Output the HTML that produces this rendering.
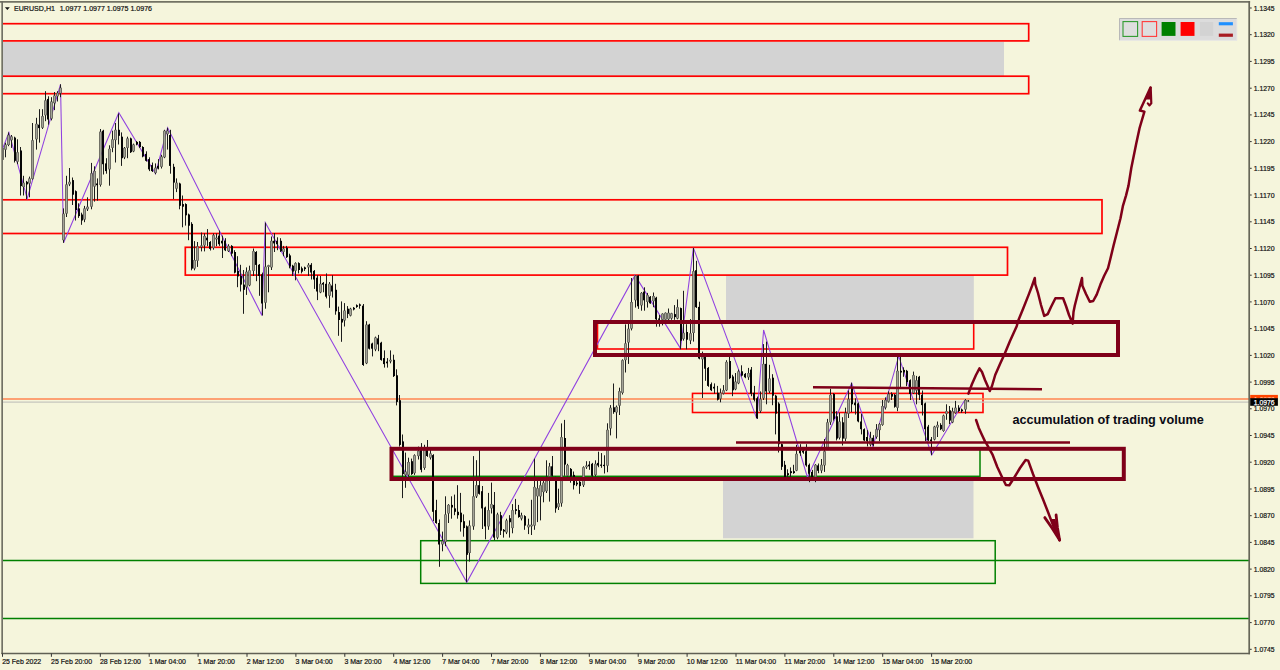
<!DOCTYPE html>
<html><head><meta charset="utf-8"><title>EURUSD,H1</title>
<style>html,body{margin:0;padding:0;background:#f5f5dc;}body{width:1280px;height:670px;overflow:hidden;position:relative;font-family:"Liberation Sans",sans-serif;}svg{position:absolute;left:0;top:0;display:block}text{font-family:"Liberation Sans",sans-serif;}text.s{stroke:#111;stroke-width:0.22px;}</style></head><body>
<svg width="1280" height="670" viewBox="0 0 1280 670">
<rect x="0" y="0" width="1280" height="670" fill="#f5f5dc"/>
<defs><clipPath id="plot"><rect x="3" y="3" width="1246" height="650"/></clipPath></defs>
<g clip-path="url(#plot)">
<rect x="0" y="42" width="1004" height="34.5" fill="#d3d3d3"/>
<rect x="726" y="275.5" width="247.8" height="44.5" fill="#d3d3d3"/>
<rect x="723" y="481" width="250.5" height="57.3" fill="#d3d3d3"/>
<rect x="-10.00" y="23.70" width="1038.70" height="17.20" fill="none" stroke="#ff0000" stroke-width="1.70"/>
<rect x="-10.00" y="76.20" width="1038.70" height="17.50" fill="none" stroke="#ff0000" stroke-width="1.70"/>
<rect x="-10.00" y="199.80" width="1112.00" height="33.70" fill="none" stroke="#ff0000" stroke-width="1.70"/>
<rect x="185.30" y="247.30" width="822.20" height="27.80" fill="none" stroke="#ff0000" stroke-width="1.70"/>
<rect x="597.50" y="323.00" width="376.20" height="26.00" fill="none" stroke="#ff0000" stroke-width="1.60"/>
<rect x="692.50" y="393.40" width="290.50" height="19.10" fill="none" stroke="#ff0000" stroke-width="1.60"/>
<rect x="392.00" y="449.00" width="588.00" height="27.30" fill="none" stroke="#008000" stroke-width="1.50"/>
<rect x="420.70" y="540.70" width="574.50" height="42.70" fill="none" stroke="#008000" stroke-width="1.50"/>
<line x1="0" y1="560.5" x2="1249" y2="560.5" stroke="#008000" stroke-width="1.5"/>
<line x1="0" y1="618.6" x2="1249" y2="618.6" stroke="#008000" stroke-width="1.5"/>
<line x1="0" y1="399.05" x2="1249" y2="399.05" stroke="#ff8550" stroke-width="1.6"/>
<line x1="0" y1="402.15" x2="1249" y2="402.15" stroke="#c6c6be" stroke-width="1.4"/>
<polyline fill="none" stroke="#9040e0" stroke-width="1.05" points="2.6,148.8 8.9,132.4 27.2,198.6 60.5,84.3 63.6,242.8 118.8,112.7 155.5,173.7 167.6,127.8 261.9,315.5 265.3,222.7 466.8,582.3 635.0,275.4 680.5,348.4 693.4,247.9 756.9,418.9 763.6,330.0 807.4,477.2 851.7,383.2 872.9,446.4 898.7,356.2 931.7,455.0 965.0,399.7"/>
<g id="candles">
<line x1="965.5" y1="399.1" x2="965.5" y2="413.8" stroke="#1c1c1c" stroke-width="1"/>
<rect x="964.15" y="400.0" width="2.7" height="9.5" fill="#595952"/>
<rect x="965.00" y="400.5" width="1" height="8.5" fill="#a4a498"/>
<line x1="961.5" y1="408.6" x2="961.5" y2="412.9" stroke="#1c1c1c" stroke-width="1"/>
<rect x="961" y="409.5" width="2" height="1.7" fill="#050505"/>
<line x1="958.5" y1="405.2" x2="958.5" y2="412.0" stroke="#1c1c1c" stroke-width="1"/>
<rect x="958" y="407.7" width="2" height="3.4" fill="#050505"/>
<line x1="955.5" y1="400.9" x2="955.5" y2="413.8" stroke="#1c1c1c" stroke-width="1"/>
<rect x="954.15" y="407.7" width="2.7" height="5.2" fill="#595952"/>
<rect x="955.00" y="408.2" width="1" height="4.2" fill="#a4a498"/>
<line x1="952.5" y1="407.7" x2="952.5" y2="423.2" stroke="#1c1c1c" stroke-width="1"/>
<rect x="951.15" y="411.2" width="2.7" height="11.2" fill="#595952"/>
<rect x="952.00" y="411.7" width="1" height="10.2" fill="#a4a498"/>
<line x1="949.5" y1="406.0" x2="949.5" y2="424.1" stroke="#1c1c1c" stroke-width="1"/>
<rect x="949" y="410.3" width="2" height="10.3" fill="#050505"/>
<line x1="946.5" y1="404.3" x2="946.5" y2="419.8" stroke="#1c1c1c" stroke-width="1"/>
<rect x="945.15" y="411.2" width="2.7" height="2.6" fill="#595952"/>
<rect x="946.00" y="411.7" width="1" height="1.6" fill="#a4a498"/>
<line x1="943.5" y1="414.6" x2="943.5" y2="431.8" stroke="#1c1c1c" stroke-width="1"/>
<rect x="942.15" y="415.5" width="2.7" height="15.5" fill="#595952"/>
<rect x="943.00" y="416.0" width="1" height="14.5" fill="#a4a498"/>
<line x1="940.5" y1="423.2" x2="940.5" y2="430.1" stroke="#1c1c1c" stroke-width="1"/>
<rect x="940" y="424.9" width="2" height="4.3" fill="#050505"/>
<line x1="937.5" y1="421.5" x2="937.5" y2="437.0" stroke="#1c1c1c" stroke-width="1"/>
<rect x="936.15" y="424.9" width="2.7" height="2.6" fill="#595952"/>
<rect x="937.00" y="425.4" width="1" height="1.6" fill="#a4a498"/>
<line x1="934.5" y1="425.8" x2="934.5" y2="440.4" stroke="#1c1c1c" stroke-width="1"/>
<rect x="933.15" y="426.6" width="2.7" height="12.9" fill="#595952"/>
<rect x="934.00" y="427.1" width="1" height="11.9" fill="#a4a498"/>
<line x1="931.5" y1="437.0" x2="931.5" y2="455.0" stroke="#1c1c1c" stroke-width="1"/>
<rect x="930" y="439.5" width="2" height="1.7" fill="#050505"/>
<line x1="928.5" y1="424.9" x2="928.5" y2="441.2" stroke="#1c1c1c" stroke-width="1"/>
<rect x="927" y="426.6" width="2" height="13.8" fill="#050505"/>
<line x1="925.5" y1="402.6" x2="925.5" y2="441.2" stroke="#1c1c1c" stroke-width="1"/>
<rect x="924" y="403.4" width="2" height="25.8" fill="#050505"/>
<line x1="922.5" y1="390.5" x2="922.5" y2="415.5" stroke="#1c1c1c" stroke-width="1"/>
<rect x="921" y="394.8" width="2" height="10.3" fill="#050505"/>
<line x1="919.5" y1="375.9" x2="919.5" y2="400.0" stroke="#1c1c1c" stroke-width="1"/>
<rect x="918" y="376.8" width="2" height="18.0" fill="#050505"/>
<line x1="916.5" y1="375.9" x2="916.5" y2="404.3" stroke="#1c1c1c" stroke-width="1"/>
<rect x="915.15" y="380.2" width="2.7" height="10.3" fill="#595952"/>
<rect x="916.00" y="380.7" width="1" height="9.3" fill="#a4a498"/>
<line x1="913.5" y1="371.6" x2="913.5" y2="394.0" stroke="#1c1c1c" stroke-width="1"/>
<rect x="912.15" y="375.1" width="2.7" height="18.0" fill="#595952"/>
<rect x="913.00" y="375.6" width="1" height="17.0" fill="#a4a498"/>
<line x1="910.5" y1="379.4" x2="910.5" y2="400.0" stroke="#1c1c1c" stroke-width="1"/>
<rect x="909" y="380.2" width="2" height="13.8" fill="#050505"/>
<line x1="906.5" y1="369.9" x2="906.5" y2="386.2" stroke="#1c1c1c" stroke-width="1"/>
<rect x="906" y="370.8" width="2" height="11.2" fill="#050505"/>
<line x1="903.5" y1="367.3" x2="903.5" y2="376.8" stroke="#1c1c1c" stroke-width="1"/>
<rect x="903" y="369.9" width="2" height="2.6" fill="#050505"/>
<line x1="900.5" y1="357.0" x2="900.5" y2="388.8" stroke="#1c1c1c" stroke-width="1"/>
<rect x="900" y="370.8" width="2" height="1.7" fill="#050505"/>
<line x1="897.5" y1="356.2" x2="897.5" y2="411.2" stroke="#1c1c1c" stroke-width="1"/>
<rect x="896.15" y="370.8" width="2.7" height="37.0" fill="#595952"/>
<rect x="897.00" y="371.3" width="1" height="36.0" fill="#a4a498"/>
<line x1="894.5" y1="394.0" x2="894.5" y2="407.7" stroke="#1c1c1c" stroke-width="1"/>
<rect x="894" y="394.8" width="2" height="12.0" fill="#050505"/>
<line x1="891.5" y1="392.3" x2="891.5" y2="400.0" stroke="#1c1c1c" stroke-width="1"/>
<rect x="891" y="394.0" width="2" height="2.6" fill="#050505"/>
<line x1="888.5" y1="391.4" x2="888.5" y2="402.6" stroke="#1c1c1c" stroke-width="1"/>
<rect x="887.15" y="394.0" width="2.7" height="7.7" fill="#595952"/>
<rect x="888.00" y="394.5" width="1" height="6.7" fill="#a4a498"/>
<line x1="885.5" y1="397.4" x2="885.5" y2="409.5" stroke="#1c1c1c" stroke-width="1"/>
<rect x="884.15" y="400.0" width="2.7" height="7.7" fill="#595952"/>
<rect x="885.00" y="400.5" width="1" height="6.7" fill="#a4a498"/>
<line x1="882.5" y1="400.0" x2="882.5" y2="425.8" stroke="#1c1c1c" stroke-width="1"/>
<rect x="881.15" y="406.0" width="2.7" height="18.9" fill="#595952"/>
<rect x="882.00" y="406.5" width="1" height="17.9" fill="#a4a498"/>
<line x1="879.5" y1="423.2" x2="879.5" y2="441.2" stroke="#1c1c1c" stroke-width="1"/>
<rect x="878.15" y="424.1" width="2.7" height="6.0" fill="#595952"/>
<rect x="879.00" y="424.6" width="1" height="5.0" fill="#a4a498"/>
<line x1="876.5" y1="424.1" x2="876.5" y2="438.7" stroke="#1c1c1c" stroke-width="1"/>
<rect x="875.15" y="429.2" width="2.7" height="7.7" fill="#595952"/>
<rect x="876.00" y="429.7" width="1" height="6.7" fill="#a4a498"/>
<line x1="873.5" y1="435.2" x2="873.5" y2="446.4" stroke="#1c1c1c" stroke-width="1"/>
<rect x="872" y="437.8" width="2" height="6.9" fill="#050505"/>
<line x1="870.5" y1="431.8" x2="870.5" y2="446.4" stroke="#1c1c1c" stroke-width="1"/>
<rect x="869.15" y="437.8" width="2.7" height="6.9" fill="#595952"/>
<rect x="870.00" y="438.3" width="1" height="5.9" fill="#a4a498"/>
<line x1="867.5" y1="430.1" x2="867.5" y2="446.4" stroke="#1c1c1c" stroke-width="1"/>
<rect x="866" y="437.0" width="2" height="4.3" fill="#050505"/>
<line x1="864.5" y1="428.4" x2="864.5" y2="441.2" stroke="#1c1c1c" stroke-width="1"/>
<rect x="863" y="429.2" width="2" height="11.2" fill="#050505"/>
<line x1="861.5" y1="413.8" x2="861.5" y2="434.4" stroke="#1c1c1c" stroke-width="1"/>
<rect x="860" y="421.5" width="2" height="7.7" fill="#050505"/>
<line x1="858.5" y1="402.6" x2="858.5" y2="422.3" stroke="#1c1c1c" stroke-width="1"/>
<rect x="857" y="403.4" width="2" height="18.0" fill="#050505"/>
<line x1="855.5" y1="398.3" x2="855.5" y2="414.6" stroke="#1c1c1c" stroke-width="1"/>
<rect x="854" y="402.6" width="2" height="2.6" fill="#050505"/>
<line x1="851.5" y1="382.8" x2="851.5" y2="412.0" stroke="#1c1c1c" stroke-width="1"/>
<rect x="851" y="388.0" width="2" height="16.3" fill="#050505"/>
<line x1="848.5" y1="390.5" x2="848.5" y2="418.0" stroke="#1c1c1c" stroke-width="1"/>
<rect x="847.15" y="399.1" width="2.7" height="14.6" fill="#595952"/>
<rect x="848.00" y="399.6" width="1" height="13.6" fill="#a4a498"/>
<line x1="845.5" y1="407.7" x2="845.5" y2="441.2" stroke="#1c1c1c" stroke-width="1"/>
<rect x="844.15" y="412.9" width="2.7" height="25.8" fill="#595952"/>
<rect x="845.00" y="413.4" width="1" height="24.8" fill="#a4a498"/>
<line x1="842.5" y1="417.2" x2="842.5" y2="445.5" stroke="#1c1c1c" stroke-width="1"/>
<rect x="842" y="422.3" width="2" height="16.3" fill="#050505"/>
<line x1="839.5" y1="412.9" x2="839.5" y2="439.5" stroke="#1c1c1c" stroke-width="1"/>
<rect x="838.15" y="421.5" width="2.7" height="16.3" fill="#595952"/>
<rect x="839.00" y="422.0" width="1" height="15.3" fill="#a4a498"/>
<line x1="836.5" y1="411.2" x2="836.5" y2="440.4" stroke="#1c1c1c" stroke-width="1"/>
<rect x="836" y="416.3" width="2" height="22.3" fill="#050505"/>
<line x1="833.5" y1="393.1" x2="833.5" y2="420.6" stroke="#1c1c1c" stroke-width="1"/>
<rect x="833" y="394.0" width="2" height="24.9" fill="#050505"/>
<line x1="830.5" y1="388.8" x2="830.5" y2="424.9" stroke="#1c1c1c" stroke-width="1"/>
<rect x="829.15" y="394.8" width="2.7" height="27.5" fill="#595952"/>
<rect x="830.00" y="395.3" width="1" height="26.5" fill="#a4a498"/>
<line x1="827.5" y1="418.9" x2="827.5" y2="449.0" stroke="#1c1c1c" stroke-width="1"/>
<rect x="826.15" y="422.3" width="2.7" height="25.8" fill="#595952"/>
<rect x="827.00" y="422.8" width="1" height="24.8" fill="#a4a498"/>
<line x1="824.5" y1="439.0" x2="824.5" y2="471.9" stroke="#1c1c1c" stroke-width="1"/>
<rect x="823.15" y="451.2" width="2.7" height="14.2" fill="#595952"/>
<rect x="824.00" y="451.8" width="1" height="13.2" fill="#a4a498"/>
<line x1="821.5" y1="459.0" x2="821.5" y2="473.2" stroke="#1c1c1c" stroke-width="1"/>
<rect x="820.15" y="464.8" width="2.7" height="5.8" fill="#595952"/>
<rect x="821.00" y="465.3" width="1" height="4.8" fill="#a4a498"/>
<line x1="818.5" y1="463.5" x2="818.5" y2="473.2" stroke="#1c1c1c" stroke-width="1"/>
<rect x="817" y="465.4" width="2" height="5.4" fill="#050505"/>
<line x1="815.5" y1="464.1" x2="815.5" y2="482.2" stroke="#1c1c1c" stroke-width="1"/>
<rect x="814.15" y="464.8" width="2.7" height="12.2" fill="#595952"/>
<rect x="815.00" y="465.3" width="1" height="11.2" fill="#a4a498"/>
<line x1="812.5" y1="469.9" x2="812.5" y2="478.3" stroke="#1c1c1c" stroke-width="1"/>
<rect x="811" y="471.9" width="2" height="5.8" fill="#050505"/>
<line x1="809.5" y1="463.5" x2="809.5" y2="482.2" stroke="#1c1c1c" stroke-width="1"/>
<rect x="808" y="464.8" width="2" height="9.0" fill="#050505"/>
<line x1="806.5" y1="444.2" x2="806.5" y2="466.7" stroke="#1c1c1c" stroke-width="1"/>
<rect x="805" y="451.2" width="2" height="14.2" fill="#050505"/>
<line x1="803.5" y1="448.7" x2="803.5" y2="453.8" stroke="#1c1c1c" stroke-width="1"/>
<rect x="802" y="450.6" width="2" height="1.9" fill="#050505"/>
<line x1="800.5" y1="444.2" x2="800.5" y2="455.8" stroke="#1c1c1c" stroke-width="1"/>
<rect x="799" y="450.6" width="2" height="2.6" fill="#050505"/>
<line x1="796.5" y1="444.8" x2="796.5" y2="471.2" stroke="#1c1c1c" stroke-width="1"/>
<rect x="795.15" y="453.8" width="2.7" height="16.8" fill="#595952"/>
<rect x="796.00" y="454.3" width="1" height="15.8" fill="#a4a498"/>
<line x1="793.5" y1="464.8" x2="793.5" y2="473.8" stroke="#1c1c1c" stroke-width="1"/>
<rect x="793" y="471.2" width="2" height="1.9" fill="#050505"/>
<line x1="790.5" y1="467.4" x2="790.5" y2="477.7" stroke="#1c1c1c" stroke-width="1"/>
<rect x="790" y="471.2" width="2" height="1.9" fill="#050505"/>
<line x1="787.5" y1="469.3" x2="787.5" y2="477.7" stroke="#1c1c1c" stroke-width="1"/>
<rect x="787" y="473.2" width="2" height="1.9" fill="#050505"/>
<line x1="784.5" y1="460.9" x2="784.5" y2="477.7" stroke="#1c1c1c" stroke-width="1"/>
<rect x="784" y="464.8" width="2" height="12.2" fill="#050505"/>
<line x1="781.5" y1="443.5" x2="781.5" y2="469.9" stroke="#1c1c1c" stroke-width="1"/>
<rect x="781" y="444.2" width="2" height="22.6" fill="#050505"/>
<line x1="778.5" y1="402.3" x2="778.5" y2="452.5" stroke="#1c1c1c" stroke-width="1"/>
<rect x="778" y="403.6" width="2" height="40.6" fill="#050505"/>
<line x1="775.5" y1="394.8" x2="775.5" y2="434.4" stroke="#1c1c1c" stroke-width="1"/>
<rect x="775" y="395.7" width="2" height="18.0" fill="#050505"/>
<line x1="772.5" y1="374.2" x2="772.5" y2="405.2" stroke="#1c1c1c" stroke-width="1"/>
<rect x="772" y="377.7" width="2" height="18.0" fill="#050505"/>
<line x1="769.5" y1="364.8" x2="769.5" y2="393.1" stroke="#1c1c1c" stroke-width="1"/>
<rect x="768.15" y="378.5" width="2.7" height="12.9" fill="#595952"/>
<rect x="769.00" y="379.0" width="1" height="11.9" fill="#a4a498"/>
<line x1="766.5" y1="341.6" x2="766.5" y2="404.3" stroke="#1c1c1c" stroke-width="1"/>
<rect x="765" y="363.9" width="2" height="27.5" fill="#050505"/>
<line x1="763.5" y1="344.1" x2="763.5" y2="400.0" stroke="#1c1c1c" stroke-width="1"/>
<rect x="762.15" y="363.9" width="2.7" height="34.4" fill="#595952"/>
<rect x="763.00" y="364.4" width="1" height="33.4" fill="#a4a498"/>
<line x1="760.5" y1="391.4" x2="760.5" y2="412.9" stroke="#1c1c1c" stroke-width="1"/>
<rect x="759.15" y="399.1" width="2.7" height="12.0" fill="#595952"/>
<rect x="760.00" y="399.6" width="1" height="11.0" fill="#a4a498"/>
<line x1="757.5" y1="396.6" x2="757.5" y2="418.9" stroke="#1c1c1c" stroke-width="1"/>
<rect x="756" y="398.3" width="2" height="19.8" fill="#050505"/>
<line x1="754.5" y1="385.9" x2="754.5" y2="401.4" stroke="#1c1c1c" stroke-width="1"/>
<rect x="753" y="392.8" width="2" height="6.9" fill="#050505"/>
<line x1="751.5" y1="367.0" x2="751.5" y2="396.2" stroke="#1c1c1c" stroke-width="1"/>
<rect x="750" y="369.6" width="2" height="24.1" fill="#050505"/>
<line x1="748.5" y1="367.9" x2="748.5" y2="379.9" stroke="#1c1c1c" stroke-width="1"/>
<rect x="747.15" y="373.0" width="2.7" height="4.3" fill="#595952"/>
<rect x="748.00" y="373.5" width="1" height="3.3" fill="#a4a498"/>
<line x1="745.5" y1="373.0" x2="745.5" y2="378.2" stroke="#1c1c1c" stroke-width="1"/>
<rect x="744" y="373.9" width="2" height="3.4" fill="#050505"/>
<line x1="741.5" y1="365.3" x2="741.5" y2="376.5" stroke="#1c1c1c" stroke-width="1"/>
<rect x="741" y="371.3" width="2" height="4.3" fill="#050505"/>
<line x1="738.5" y1="369.6" x2="738.5" y2="384.2" stroke="#1c1c1c" stroke-width="1"/>
<rect x="737.15" y="371.3" width="2.7" height="12.0" fill="#595952"/>
<rect x="738.00" y="371.8" width="1" height="11.0" fill="#a4a498"/>
<line x1="735.5" y1="373.0" x2="735.5" y2="390.2" stroke="#1c1c1c" stroke-width="1"/>
<rect x="734.15" y="381.6" width="2.7" height="7.7" fill="#595952"/>
<rect x="735.00" y="382.1" width="1" height="6.7" fill="#a4a498"/>
<line x1="732.5" y1="374.8" x2="732.5" y2="396.2" stroke="#1c1c1c" stroke-width="1"/>
<rect x="732" y="376.5" width="2" height="13.8" fill="#050505"/>
<line x1="729.5" y1="356.7" x2="729.5" y2="379.1" stroke="#1c1c1c" stroke-width="1"/>
<rect x="729" y="361.0" width="2" height="17.2" fill="#050505"/>
<line x1="726.5" y1="360.2" x2="726.5" y2="391.1" stroke="#1c1c1c" stroke-width="1"/>
<rect x="725.15" y="361.9" width="2.7" height="28.4" fill="#595952"/>
<rect x="726.00" y="362.4" width="1" height="27.4" fill="#a4a498"/>
<line x1="723.5" y1="385.1" x2="723.5" y2="394.5" stroke="#1c1c1c" stroke-width="1"/>
<rect x="722.15" y="390.2" width="2.7" height="3.4" fill="#595952"/>
<rect x="723.00" y="390.7" width="1" height="2.4" fill="#a4a498"/>
<line x1="720.5" y1="388.5" x2="720.5" y2="402.3" stroke="#1c1c1c" stroke-width="1"/>
<rect x="719.15" y="392.8" width="2.7" height="6.0" fill="#595952"/>
<rect x="720.00" y="393.3" width="1" height="5.0" fill="#a4a498"/>
<line x1="717.5" y1="385.9" x2="717.5" y2="400.5" stroke="#1c1c1c" stroke-width="1"/>
<rect x="717" y="392.8" width="2" height="6.9" fill="#050505"/>
<line x1="714.5" y1="383.4" x2="714.5" y2="393.7" stroke="#1c1c1c" stroke-width="1"/>
<rect x="713" y="386.8" width="2" height="1.7" fill="#050505"/>
<line x1="711.5" y1="382.5" x2="711.5" y2="391.1" stroke="#1c1c1c" stroke-width="1"/>
<rect x="710" y="384.2" width="2" height="6.0" fill="#050505"/>
<line x1="708.5" y1="367.0" x2="708.5" y2="386.8" stroke="#1c1c1c" stroke-width="1"/>
<rect x="707" y="367.9" width="2" height="18.0" fill="#050505"/>
<line x1="705.5" y1="355.9" x2="705.5" y2="380.8" stroke="#1c1c1c" stroke-width="1"/>
<rect x="704" y="356.7" width="2" height="12.0" fill="#050505"/>
<line x1="702.5" y1="351.6" x2="702.5" y2="398.0" stroke="#1c1c1c" stroke-width="1"/>
<rect x="701.15" y="356.7" width="2.7" height="2.6" fill="#595952"/>
<rect x="702.00" y="357.2" width="1" height="1.6" fill="#a4a498"/>
<line x1="699.5" y1="301.7" x2="699.5" y2="359.3" stroke="#1c1c1c" stroke-width="1"/>
<rect x="698" y="306.9" width="2" height="51.6" fill="#050505"/>
<line x1="696.5" y1="260.8" x2="696.5" y2="308.0" stroke="#1c1c1c" stroke-width="1"/>
<rect x="695" y="270.2" width="2" height="37.0" fill="#050505"/>
<line x1="693.5" y1="247.9" x2="693.5" y2="341.6" stroke="#1c1c1c" stroke-width="1"/>
<rect x="692.15" y="271.1" width="2.7" height="61.9" fill="#595952"/>
<rect x="693.00" y="271.6" width="1" height="60.9" fill="#a4a498"/>
<line x1="690.5" y1="319.1" x2="690.5" y2="344.1" stroke="#1c1c1c" stroke-width="1"/>
<rect x="689.15" y="333.2" width="2.7" height="7.4" fill="#595952"/>
<rect x="690.00" y="333.7" width="1" height="6.4" fill="#a4a498"/>
<line x1="686.5" y1="324.2" x2="686.5" y2="349.3" stroke="#1c1c1c" stroke-width="1"/>
<rect x="686" y="332.0" width="2" height="7.7" fill="#050505"/>
<line x1="683.5" y1="290.8" x2="683.5" y2="340.6" stroke="#1c1c1c" stroke-width="1"/>
<rect x="682.15" y="332.8" width="2.7" height="6.1" fill="#595952"/>
<rect x="683.00" y="333.3" width="1" height="5.1" fill="#a4a498"/>
<line x1="680.5" y1="307.6" x2="680.5" y2="349.3" stroke="#1c1c1c" stroke-width="1"/>
<rect x="680" y="308.1" width="2" height="32.6" fill="#050505"/>
<line x1="677.5" y1="299.4" x2="677.5" y2="319.3" stroke="#1c1c1c" stroke-width="1"/>
<rect x="676.15" y="307.2" width="2.7" height="11.3" fill="#595952"/>
<rect x="677.00" y="307.7" width="1" height="10.3" fill="#a4a498"/>
<line x1="674.5" y1="305.1" x2="674.5" y2="319.8" stroke="#1c1c1c" stroke-width="1"/>
<rect x="674" y="314.1" width="2" height="3.0" fill="#050505"/>
<line x1="671.5" y1="312.8" x2="671.5" y2="319.8" stroke="#1c1c1c" stroke-width="1"/>
<rect x="670.15" y="313.3" width="2.7" height="5.2" fill="#595952"/>
<rect x="671.00" y="313.8" width="1" height="4.2" fill="#a4a498"/>
<line x1="668.5" y1="308.5" x2="668.5" y2="320.2" stroke="#1c1c1c" stroke-width="1"/>
<rect x="667.15" y="312.8" width="2.7" height="6.5" fill="#595952"/>
<rect x="668.00" y="313.3" width="1" height="5.5" fill="#a4a498"/>
<line x1="665.5" y1="312.4" x2="665.5" y2="320.2" stroke="#1c1c1c" stroke-width="1"/>
<rect x="664.15" y="312.8" width="2.7" height="6.9" fill="#595952"/>
<rect x="665.00" y="313.3" width="1" height="5.9" fill="#a4a498"/>
<line x1="662.5" y1="313.3" x2="662.5" y2="325.4" stroke="#1c1c1c" stroke-width="1"/>
<rect x="661.15" y="313.7" width="2.7" height="6.1" fill="#595952"/>
<rect x="662.00" y="314.2" width="1" height="5.1" fill="#a4a498"/>
<line x1="659.5" y1="315.0" x2="659.5" y2="326.7" stroke="#1c1c1c" stroke-width="1"/>
<rect x="658" y="318.5" width="2" height="1.3" fill="#050505"/>
<line x1="656.5" y1="296.8" x2="656.5" y2="326.7" stroke="#1c1c1c" stroke-width="1"/>
<rect x="655" y="297.7" width="2" height="21.6" fill="#050505"/>
<line x1="653.5" y1="292.5" x2="653.5" y2="307.2" stroke="#1c1c1c" stroke-width="1"/>
<rect x="652.15" y="296.0" width="2.7" height="5.2" fill="#595952"/>
<rect x="653.00" y="296.5" width="1" height="4.2" fill="#a4a498"/>
<line x1="650.5" y1="296.0" x2="650.5" y2="303.8" stroke="#1c1c1c" stroke-width="1"/>
<rect x="649" y="296.8" width="2" height="6.5" fill="#050505"/>
<line x1="647.5" y1="292.9" x2="647.5" y2="307.6" stroke="#1c1c1c" stroke-width="1"/>
<rect x="646.15" y="295.1" width="2.7" height="6.9" fill="#595952"/>
<rect x="647.00" y="295.6" width="1" height="5.9" fill="#a4a498"/>
<line x1="644.5" y1="287.3" x2="644.5" y2="310.7" stroke="#1c1c1c" stroke-width="1"/>
<rect x="643" y="291.6" width="2" height="8.7" fill="#050505"/>
<line x1="641.5" y1="292.1" x2="641.5" y2="310.7" stroke="#1c1c1c" stroke-width="1"/>
<rect x="640.15" y="292.9" width="2.7" height="12.5" fill="#595952"/>
<rect x="641.00" y="293.4" width="1" height="11.5" fill="#a4a498"/>
<line x1="638.5" y1="275.2" x2="638.5" y2="308.9" stroke="#1c1c1c" stroke-width="1"/>
<rect x="637" y="275.6" width="2" height="30.7" fill="#050505"/>
<line x1="635.5" y1="275.2" x2="635.5" y2="307.6" stroke="#1c1c1c" stroke-width="1"/>
<rect x="634.15" y="275.6" width="2.7" height="24.7" fill="#595952"/>
<rect x="635.00" y="276.1" width="1" height="23.7" fill="#a4a498"/>
<line x1="631.5" y1="278.0" x2="631.5" y2="330.4" stroke="#1c1c1c" stroke-width="1"/>
<rect x="630.15" y="302.0" width="2.7" height="26.6" fill="#595952"/>
<rect x="631.00" y="302.5" width="1" height="25.6" fill="#a4a498"/>
<line x1="628.5" y1="323.5" x2="628.5" y2="363.9" stroke="#1c1c1c" stroke-width="1"/>
<rect x="627.15" y="328.7" width="2.7" height="13.8" fill="#595952"/>
<rect x="628.00" y="329.2" width="1" height="12.8" fill="#a4a498"/>
<line x1="625.5" y1="324.4" x2="625.5" y2="372.5" stroke="#1c1c1c" stroke-width="1"/>
<rect x="624.15" y="343.3" width="2.7" height="16.8" fill="#595952"/>
<rect x="625.00" y="343.8" width="1" height="15.8" fill="#a4a498"/>
<line x1="622.5" y1="359.3" x2="622.5" y2="394.5" stroke="#1c1c1c" stroke-width="1"/>
<rect x="621.15" y="360.2" width="2.7" height="32.7" fill="#595952"/>
<rect x="622.00" y="360.7" width="1" height="31.7" fill="#a4a498"/>
<line x1="619.5" y1="387.7" x2="619.5" y2="415.0" stroke="#1c1c1c" stroke-width="1"/>
<rect x="618.15" y="391.1" width="2.7" height="14.6" fill="#595952"/>
<rect x="619.00" y="391.6" width="1" height="13.6" fill="#a4a498"/>
<line x1="616.5" y1="405.5" x2="616.5" y2="438.4" stroke="#1c1c1c" stroke-width="1"/>
<rect x="615.15" y="406.8" width="2.7" height="5.6" fill="#595952"/>
<rect x="616.00" y="407.3" width="1" height="4.6" fill="#a4a498"/>
<line x1="613.5" y1="383.5" x2="613.5" y2="413.8" stroke="#1c1c1c" stroke-width="1"/>
<rect x="613" y="407.3" width="2" height="4.8" fill="#050505"/>
<line x1="610.5" y1="405.1" x2="610.5" y2="435.4" stroke="#1c1c1c" stroke-width="1"/>
<rect x="609.15" y="407.7" width="2.7" height="20.8" fill="#595952"/>
<rect x="610.00" y="408.2" width="1" height="19.8" fill="#a4a498"/>
<line x1="607.5" y1="423.3" x2="607.5" y2="472.2" stroke="#1c1c1c" stroke-width="1"/>
<rect x="606.15" y="429.8" width="2.7" height="35.9" fill="#595952"/>
<rect x="607.00" y="430.3" width="1" height="34.9" fill="#a4a498"/>
<line x1="604.5" y1="455.3" x2="604.5" y2="473.5" stroke="#1c1c1c" stroke-width="1"/>
<rect x="603" y="464.8" width="2" height="1.3" fill="#050505"/>
<line x1="601.5" y1="453.1" x2="601.5" y2="467.8" stroke="#1c1c1c" stroke-width="1"/>
<rect x="600" y="464.6" width="2" height="1.2" fill="#050505"/>
<line x1="598.5" y1="451.7" x2="598.5" y2="467.2" stroke="#1c1c1c" stroke-width="1"/>
<rect x="597" y="462.9" width="2" height="2.6" fill="#050505"/>
<line x1="595.5" y1="460.3" x2="595.5" y2="476.6" stroke="#1c1c1c" stroke-width="1"/>
<rect x="594.15" y="463.8" width="2.7" height="11.2" fill="#595952"/>
<rect x="595.00" y="464.2" width="1" height="10.2" fill="#a4a498"/>
<line x1="592.5" y1="462.9" x2="592.5" y2="477.5" stroke="#1c1c1c" stroke-width="1"/>
<rect x="591" y="463.8" width="2" height="12.0" fill="#050505"/>
<line x1="589.5" y1="461.2" x2="589.5" y2="469.8" stroke="#1c1c1c" stroke-width="1"/>
<rect x="588" y="464.6" width="2" height="1.7" fill="#050505"/>
<line x1="586.5" y1="461.2" x2="586.5" y2="468.9" stroke="#1c1c1c" stroke-width="1"/>
<rect x="585.15" y="465.5" width="2.7" height="1.7" fill="#595952"/>
<rect x="586.00" y="466.0" width="1" height="0.7" fill="#a4a498"/>
<line x1="583.5" y1="466.3" x2="583.5" y2="487.0" stroke="#1c1c1c" stroke-width="1"/>
<rect x="582.15" y="467.2" width="2.7" height="18.0" fill="#595952"/>
<rect x="583.00" y="467.7" width="1" height="17.0" fill="#a4a498"/>
<line x1="579.5" y1="480.9" x2="579.5" y2="493.8" stroke="#1c1c1c" stroke-width="1"/>
<rect x="579" y="481.8" width="2" height="4.3" fill="#050505"/>
<line x1="576.5" y1="480.9" x2="576.5" y2="486.1" stroke="#1c1c1c" stroke-width="1"/>
<rect x="576" y="482.7" width="2" height="1.7" fill="#050505"/>
<line x1="573.5" y1="471.5" x2="573.5" y2="489.5" stroke="#1c1c1c" stroke-width="1"/>
<rect x="573" y="474.9" width="2" height="10.3" fill="#050505"/>
<line x1="570.5" y1="468.0" x2="570.5" y2="482.7" stroke="#1c1c1c" stroke-width="1"/>
<rect x="570" y="468.9" width="2" height="7.7" fill="#050505"/>
<line x1="567.5" y1="463.8" x2="567.5" y2="476.6" stroke="#1c1c1c" stroke-width="1"/>
<rect x="566.15" y="465.1" width="2.7" height="10.7" fill="#595952"/>
<rect x="567.00" y="465.6" width="1" height="9.7" fill="#a4a498"/>
<line x1="564.5" y1="419.9" x2="564.5" y2="475.8" stroke="#1c1c1c" stroke-width="1"/>
<rect x="564" y="438.0" width="2" height="26.6" fill="#050505"/>
<line x1="561.5" y1="423.4" x2="561.5" y2="506.7" stroke="#1c1c1c" stroke-width="1"/>
<rect x="560.15" y="437.1" width="2.7" height="66.2" fill="#595952"/>
<rect x="561.00" y="437.6" width="1" height="65.2" fill="#a4a498"/>
<line x1="558.5" y1="488.7" x2="558.5" y2="510.0" stroke="#1c1c1c" stroke-width="1"/>
<rect x="557.15" y="503.3" width="2.7" height="3.8" fill="#595952"/>
<rect x="558.00" y="503.8" width="1" height="2.8" fill="#a4a498"/>
<line x1="555.5" y1="476.6" x2="555.5" y2="512.7" stroke="#1c1c1c" stroke-width="1"/>
<rect x="555" y="477.5" width="2" height="30.9" fill="#050505"/>
<line x1="552.5" y1="456.0" x2="552.5" y2="476.6" stroke="#1c1c1c" stroke-width="1"/>
<rect x="551" y="466.3" width="2" height="9.5" fill="#050505"/>
<line x1="549.5" y1="462.9" x2="549.5" y2="501.6" stroke="#1c1c1c" stroke-width="1"/>
<rect x="548.15" y="466.3" width="2.7" height="10.3" fill="#595952"/>
<rect x="549.00" y="466.8" width="1" height="9.3" fill="#a4a498"/>
<line x1="546.5" y1="460.3" x2="546.5" y2="493.0" stroke="#1c1c1c" stroke-width="1"/>
<rect x="545.15" y="480.9" width="2.7" height="10.3" fill="#595952"/>
<rect x="546.00" y="481.4" width="1" height="9.3" fill="#a4a498"/>
<line x1="543.5" y1="479.1" x2="543.5" y2="502.3" stroke="#1c1c1c" stroke-width="1"/>
<rect x="542.15" y="482.6" width="2.7" height="9.5" fill="#595952"/>
<rect x="543.00" y="483.1" width="1" height="8.5" fill="#a4a498"/>
<line x1="540.5" y1="480.0" x2="540.5" y2="520.4" stroke="#1c1c1c" stroke-width="1"/>
<rect x="539.15" y="485.2" width="2.7" height="11.2" fill="#595952"/>
<rect x="540.00" y="485.7" width="1" height="10.2" fill="#a4a498"/>
<line x1="537.5" y1="480.9" x2="537.5" y2="522.1" stroke="#1c1c1c" stroke-width="1"/>
<rect x="536.15" y="488.2" width="2.7" height="8.1" fill="#595952"/>
<rect x="537.00" y="488.8" width="1" height="7.1" fill="#a4a498"/>
<line x1="534.5" y1="458.7" x2="534.5" y2="529.8" stroke="#1c1c1c" stroke-width="1"/>
<rect x="533.15" y="486.9" width="2.7" height="38.7" fill="#595952"/>
<rect x="534.00" y="487.4" width="1" height="37.7" fill="#a4a498"/>
<line x1="531.5" y1="499.8" x2="531.5" y2="535.0" stroke="#1c1c1c" stroke-width="1"/>
<rect x="530.15" y="524.7" width="2.7" height="1.7" fill="#595952"/>
<rect x="531.00" y="525.2" width="1" height="0.7" fill="#a4a498"/>
<line x1="528.5" y1="518.7" x2="528.5" y2="534.1" stroke="#1c1c1c" stroke-width="1"/>
<rect x="527.15" y="524.7" width="2.7" height="2.6" fill="#595952"/>
<rect x="528.00" y="525.2" width="1" height="1.6" fill="#a4a498"/>
<line x1="524.5" y1="515.2" x2="524.5" y2="529.8" stroke="#1c1c1c" stroke-width="1"/>
<rect x="524" y="516.1" width="2" height="9.5" fill="#050505"/>
<line x1="521.5" y1="512.7" x2="521.5" y2="520.4" stroke="#1c1c1c" stroke-width="1"/>
<rect x="520.15" y="515.2" width="2.7" height="3.4" fill="#595952"/>
<rect x="521.00" y="515.7" width="1" height="2.4" fill="#a4a498"/>
<line x1="518.5" y1="504.9" x2="518.5" y2="517.8" stroke="#1c1c1c" stroke-width="1"/>
<rect x="518" y="510.1" width="2" height="6.9" fill="#050505"/>
<line x1="515.5" y1="498.9" x2="515.5" y2="514.4" stroke="#1c1c1c" stroke-width="1"/>
<rect x="515" y="509.2" width="2" height="1.7" fill="#050505"/>
<line x1="512.5" y1="504.1" x2="512.5" y2="533.3" stroke="#1c1c1c" stroke-width="1"/>
<rect x="511.15" y="510.1" width="2.7" height="18.0" fill="#595952"/>
<rect x="512.00" y="510.6" width="1" height="17.0" fill="#a4a498"/>
<line x1="509.5" y1="515.2" x2="509.5" y2="537.6" stroke="#1c1c1c" stroke-width="1"/>
<rect x="509" y="518.2" width="2" height="4.0" fill="#050505"/>
<line x1="506.5" y1="518.7" x2="506.5" y2="534.1" stroke="#1c1c1c" stroke-width="1"/>
<rect x="505.15" y="520.4" width="2.7" height="12.0" fill="#595952"/>
<rect x="506.00" y="520.9" width="1" height="11.0" fill="#a4a498"/>
<line x1="503.5" y1="529.0" x2="503.5" y2="537.6" stroke="#1c1c1c" stroke-width="1"/>
<rect x="503" y="529.8" width="2" height="1.7" fill="#050505"/>
<line x1="500.5" y1="511.8" x2="500.5" y2="535.0" stroke="#1c1c1c" stroke-width="1"/>
<rect x="500" y="515.2" width="2" height="15.5" fill="#050505"/>
<line x1="497.5" y1="512.7" x2="497.5" y2="539.3" stroke="#1c1c1c" stroke-width="1"/>
<rect x="496.15" y="514.4" width="2.7" height="23.2" fill="#595952"/>
<rect x="497.00" y="514.9" width="1" height="22.2" fill="#a4a498"/>
<line x1="494.5" y1="492.0" x2="494.5" y2="540.2" stroke="#1c1c1c" stroke-width="1"/>
<rect x="493" y="504.9" width="2" height="32.7" fill="#050505"/>
<line x1="491.5" y1="482.6" x2="491.5" y2="513.5" stroke="#1c1c1c" stroke-width="1"/>
<rect x="490.15" y="504.1" width="2.7" height="4.3" fill="#595952"/>
<rect x="491.00" y="504.6" width="1" height="3.3" fill="#a4a498"/>
<line x1="488.5" y1="492.9" x2="488.5" y2="529.8" stroke="#1c1c1c" stroke-width="1"/>
<rect x="487.15" y="510.1" width="2.7" height="16.3" fill="#595952"/>
<rect x="488.00" y="510.6" width="1" height="15.3" fill="#a4a498"/>
<line x1="485.5" y1="506.6" x2="485.5" y2="539.3" stroke="#1c1c1c" stroke-width="1"/>
<rect x="484" y="507.5" width="2" height="18.9" fill="#050505"/>
<line x1="482.5" y1="486.0" x2="482.5" y2="529.0" stroke="#1c1c1c" stroke-width="1"/>
<rect x="481" y="491.2" width="2" height="17.2" fill="#050505"/>
<line x1="479.5" y1="449.9" x2="479.5" y2="494.6" stroke="#1c1c1c" stroke-width="1"/>
<rect x="478" y="485.2" width="2" height="8.6" fill="#050505"/>
<line x1="476.5" y1="460.2" x2="476.5" y2="498.0" stroke="#1c1c1c" stroke-width="1"/>
<rect x="475.15" y="485.2" width="2.7" height="11.2" fill="#595952"/>
<rect x="476.00" y="485.7" width="1" height="10.2" fill="#a4a498"/>
<line x1="473.5" y1="456.1" x2="473.5" y2="529.8" stroke="#1c1c1c" stroke-width="1"/>
<rect x="472.15" y="496.3" width="2.7" height="30.1" fill="#595952"/>
<rect x="473.00" y="496.8" width="1" height="29.1" fill="#a4a498"/>
<line x1="469.5" y1="520.4" x2="469.5" y2="561.6" stroke="#1c1c1c" stroke-width="1"/>
<rect x="468.15" y="525.5" width="2.7" height="27.5" fill="#595952"/>
<rect x="469.00" y="526.0" width="1" height="26.5" fill="#a4a498"/>
<line x1="466.5" y1="525.5" x2="466.5" y2="582.3" stroke="#1c1c1c" stroke-width="1"/>
<rect x="466" y="526.4" width="2" height="28.4" fill="#050505"/>
<line x1="463.5" y1="514.4" x2="463.5" y2="536.7" stroke="#1c1c1c" stroke-width="1"/>
<rect x="463" y="521.2" width="2" height="6.9" fill="#050505"/>
<line x1="460.5" y1="492.9" x2="460.5" y2="531.6" stroke="#1c1c1c" stroke-width="1"/>
<rect x="460" y="512.7" width="2" height="9.5" fill="#050505"/>
<line x1="457.5" y1="485.2" x2="457.5" y2="518.7" stroke="#1c1c1c" stroke-width="1"/>
<rect x="457" y="511.8" width="2" height="3.4" fill="#050505"/>
<line x1="454.5" y1="494.6" x2="454.5" y2="515.2" stroke="#1c1c1c" stroke-width="1"/>
<rect x="454" y="508.4" width="2" height="3.4" fill="#050505"/>
<line x1="451.5" y1="496.3" x2="451.5" y2="518.7" stroke="#1c1c1c" stroke-width="1"/>
<rect x="451" y="504.9" width="2" height="2.6" fill="#050505"/>
<line x1="448.5" y1="504.1" x2="448.5" y2="523.0" stroke="#1c1c1c" stroke-width="1"/>
<rect x="447.15" y="504.9" width="2.7" height="8.6" fill="#595952"/>
<rect x="448.00" y="505.4" width="1" height="7.6" fill="#a4a498"/>
<line x1="445.5" y1="496.3" x2="445.5" y2="546.2" stroke="#1c1c1c" stroke-width="1"/>
<rect x="444.15" y="514.4" width="2.7" height="27.5" fill="#595952"/>
<rect x="445.00" y="514.9" width="1" height="26.5" fill="#a4a498"/>
<line x1="442.5" y1="531.6" x2="442.5" y2="551.3" stroke="#1c1c1c" stroke-width="1"/>
<rect x="441.15" y="541.0" width="2.7" height="3.4" fill="#595952"/>
<rect x="442.00" y="541.5" width="1" height="2.4" fill="#a4a498"/>
<line x1="439.5" y1="519.5" x2="439.5" y2="566.8" stroke="#1c1c1c" stroke-width="1"/>
<rect x="438" y="523.0" width="2" height="21.5" fill="#050505"/>
<line x1="436.5" y1="499.8" x2="436.5" y2="523.8" stroke="#1c1c1c" stroke-width="1"/>
<rect x="435" y="510.1" width="2" height="12.9" fill="#050505"/>
<line x1="433.5" y1="454.2" x2="433.5" y2="521.2" stroke="#1c1c1c" stroke-width="1"/>
<rect x="432" y="455.1" width="2" height="56.7" fill="#050505"/>
<line x1="430.5" y1="450.0" x2="430.5" y2="459.5" stroke="#1c1c1c" stroke-width="1"/>
<rect x="429.15" y="453.4" width="2.7" height="4.3" fill="#595952"/>
<rect x="430.00" y="453.9" width="1" height="3.3" fill="#a4a498"/>
<line x1="427.5" y1="440.0" x2="427.5" y2="456.9" stroke="#1c1c1c" stroke-width="1"/>
<rect x="426" y="450.0" width="2" height="6.0" fill="#050505"/>
<line x1="424.5" y1="444.8" x2="424.5" y2="469.8" stroke="#1c1c1c" stroke-width="1"/>
<rect x="423.15" y="450.0" width="2.7" height="18.0" fill="#595952"/>
<rect x="424.00" y="450.5" width="1" height="17.0" fill="#a4a498"/>
<line x1="421.5" y1="443.1" x2="421.5" y2="472.3" stroke="#1c1c1c" stroke-width="1"/>
<rect x="420" y="450.0" width="2" height="19.8" fill="#050505"/>
<line x1="418.5" y1="446.6" x2="418.5" y2="459.5" stroke="#1c1c1c" stroke-width="1"/>
<rect x="417.15" y="450.9" width="2.7" height="5.2" fill="#595952"/>
<rect x="418.00" y="451.4" width="1" height="4.2" fill="#a4a498"/>
<line x1="414.5" y1="454.3" x2="414.5" y2="474.9" stroke="#1c1c1c" stroke-width="1"/>
<rect x="413.15" y="455.2" width="2.7" height="18.0" fill="#595952"/>
<rect x="414.00" y="455.7" width="1" height="17.0" fill="#a4a498"/>
<line x1="411.5" y1="458.6" x2="411.5" y2="474.9" stroke="#1c1c1c" stroke-width="1"/>
<rect x="411" y="461.2" width="2" height="12.9" fill="#050505"/>
<line x1="408.5" y1="457.7" x2="408.5" y2="476.6" stroke="#1c1c1c" stroke-width="1"/>
<rect x="407.15" y="462.0" width="2.7" height="12.9" fill="#595952"/>
<rect x="408.00" y="462.5" width="1" height="11.9" fill="#a4a498"/>
<line x1="405.5" y1="452.6" x2="405.5" y2="487.8" stroke="#1c1c1c" stroke-width="1"/>
<rect x="404.15" y="471.5" width="2.7" height="3.4" fill="#595952"/>
<rect x="405.00" y="472.0" width="1" height="2.4" fill="#a4a498"/>
<line x1="402.5" y1="434.5" x2="402.5" y2="498.1" stroke="#1c1c1c" stroke-width="1"/>
<rect x="402" y="441.4" width="2" height="32.7" fill="#050505"/>
<line x1="399.5" y1="395.0" x2="399.5" y2="446.6" stroke="#1c1c1c" stroke-width="1"/>
<rect x="399" y="400.2" width="2" height="44.7" fill="#050505"/>
<line x1="396.5" y1="369.3" x2="396.5" y2="405.4" stroke="#1c1c1c" stroke-width="1"/>
<rect x="396" y="375.3" width="2" height="26.6" fill="#050505"/>
<line x1="393.5" y1="354.7" x2="393.5" y2="377.0" stroke="#1c1c1c" stroke-width="1"/>
<rect x="393" y="359.8" width="2" height="16.3" fill="#050505"/>
<line x1="390.5" y1="350.4" x2="390.5" y2="363.3" stroke="#1c1c1c" stroke-width="1"/>
<rect x="389.15" y="359.8" width="2.7" height="1.7" fill="#595952"/>
<rect x="390.00" y="360.3" width="1" height="0.7" fill="#a4a498"/>
<line x1="387.5" y1="358.1" x2="387.5" y2="367.6" stroke="#1c1c1c" stroke-width="1"/>
<rect x="386" y="361.6" width="2" height="1.7" fill="#050505"/>
<line x1="384.5" y1="350.4" x2="384.5" y2="367.6" stroke="#1c1c1c" stroke-width="1"/>
<rect x="383" y="358.1" width="2" height="6.0" fill="#050505"/>
<line x1="381.5" y1="341.8" x2="381.5" y2="360.7" stroke="#1c1c1c" stroke-width="1"/>
<rect x="380" y="342.7" width="2" height="17.2" fill="#050505"/>
<line x1="378.5" y1="334.9" x2="378.5" y2="351.2" stroke="#1c1c1c" stroke-width="1"/>
<rect x="377" y="338.4" width="2" height="6.0" fill="#050505"/>
<line x1="375.5" y1="336.6" x2="375.5" y2="351.2" stroke="#1c1c1c" stroke-width="1"/>
<rect x="374.15" y="337.5" width="2.7" height="12.0" fill="#595952"/>
<rect x="375.00" y="338.0" width="1" height="11.0" fill="#a4a498"/>
<line x1="372.5" y1="342.7" x2="372.5" y2="356.4" stroke="#1c1c1c" stroke-width="1"/>
<rect x="371" y="343.5" width="2" height="5.2" fill="#050505"/>
<line x1="369.5" y1="323.8" x2="369.5" y2="349.5" stroke="#1c1c1c" stroke-width="1"/>
<rect x="368" y="324.6" width="2" height="24.1" fill="#050505"/>
<line x1="366.5" y1="321.2" x2="366.5" y2="364.1" stroke="#1c1c1c" stroke-width="1"/>
<rect x="365.15" y="324.6" width="2.7" height="38.7" fill="#595952"/>
<rect x="366.00" y="325.1" width="1" height="37.7" fill="#a4a498"/>
<line x1="363.5" y1="304.0" x2="363.5" y2="365.9" stroke="#1c1c1c" stroke-width="1"/>
<rect x="362" y="305.7" width="2" height="59.3" fill="#050505"/>
<line x1="359.5" y1="303.5" x2="359.5" y2="308.7" stroke="#1c1c1c" stroke-width="1"/>
<rect x="359" y="304.4" width="2" height="1.4" fill="#050505"/>
<line x1="356.5" y1="304.4" x2="356.5" y2="307.8" stroke="#1c1c1c" stroke-width="1"/>
<rect x="356" y="305.2" width="2" height="1.7" fill="#050505"/>
<line x1="353.5" y1="307.0" x2="353.5" y2="310.4" stroke="#1c1c1c" stroke-width="1"/>
<rect x="353" y="307.8" width="2" height="1.7" fill="#050505"/>
<line x1="350.5" y1="307.8" x2="350.5" y2="316.4" stroke="#1c1c1c" stroke-width="1"/>
<rect x="349.15" y="308.7" width="2.7" height="6.9" fill="#595952"/>
<rect x="350.00" y="309.2" width="1" height="5.9" fill="#a4a498"/>
<line x1="347.5" y1="306.1" x2="347.5" y2="318.1" stroke="#1c1c1c" stroke-width="1"/>
<rect x="347" y="308.7" width="2" height="5.2" fill="#050505"/>
<line x1="344.5" y1="303.1" x2="344.5" y2="326.5" stroke="#1c1c1c" stroke-width="1"/>
<rect x="343.15" y="310.5" width="2.7" height="10.0" fill="#595952"/>
<rect x="344.00" y="311.0" width="1" height="9.0" fill="#a4a498"/>
<line x1="341.5" y1="301.4" x2="341.5" y2="341.8" stroke="#1c1c1c" stroke-width="1"/>
<rect x="341" y="318.9" width="2" height="3.6" fill="#050505"/>
<line x1="338.5" y1="306.6" x2="338.5" y2="335.8" stroke="#1c1c1c" stroke-width="1"/>
<rect x="338" y="312.1" width="2" height="7.9" fill="#050505"/>
<line x1="335.5" y1="283.8" x2="335.5" y2="314.7" stroke="#1c1c1c" stroke-width="1"/>
<rect x="335" y="289.8" width="2" height="21.5" fill="#050505"/>
<line x1="332.5" y1="275.2" x2="332.5" y2="297.5" stroke="#1c1c1c" stroke-width="1"/>
<rect x="331" y="285.5" width="2" height="6.0" fill="#050505"/>
<line x1="329.5" y1="282.0" x2="329.5" y2="307.8" stroke="#1c1c1c" stroke-width="1"/>
<rect x="328.15" y="283.8" width="2.7" height="12.0" fill="#595952"/>
<rect x="329.00" y="284.2" width="1" height="11.0" fill="#a4a498"/>
<line x1="326.5" y1="273.4" x2="326.5" y2="298.4" stroke="#1c1c1c" stroke-width="1"/>
<rect x="325" y="283.8" width="2" height="12.9" fill="#050505"/>
<line x1="323.5" y1="282.0" x2="323.5" y2="292.3" stroke="#1c1c1c" stroke-width="1"/>
<rect x="322" y="282.9" width="2" height="1.7" fill="#050505"/>
<line x1="320.5" y1="276.0" x2="320.5" y2="293.2" stroke="#1c1c1c" stroke-width="1"/>
<rect x="319.15" y="283.8" width="2.7" height="8.6" fill="#595952"/>
<rect x="320.00" y="284.2" width="1" height="7.6" fill="#a4a498"/>
<line x1="317.5" y1="275.2" x2="317.5" y2="300.1" stroke="#1c1c1c" stroke-width="1"/>
<rect x="316" y="277.7" width="2" height="13.8" fill="#050505"/>
<line x1="314.5" y1="270.0" x2="314.5" y2="288.9" stroke="#1c1c1c" stroke-width="1"/>
<rect x="313" y="270.9" width="2" height="8.6" fill="#050505"/>
<line x1="311.5" y1="263.1" x2="311.5" y2="279.5" stroke="#1c1c1c" stroke-width="1"/>
<rect x="310" y="264.8" width="2" height="7.7" fill="#050505"/>
<line x1="308.5" y1="263.1" x2="308.5" y2="276.0" stroke="#1c1c1c" stroke-width="1"/>
<rect x="307.15" y="264.8" width="2.7" height="2.6" fill="#595952"/>
<rect x="308.00" y="265.3" width="1" height="1.6" fill="#a4a498"/>
<line x1="304.5" y1="266.6" x2="304.5" y2="270.9" stroke="#1c1c1c" stroke-width="1"/>
<rect x="304" y="267.4" width="2" height="1.7" fill="#050505"/>
<line x1="301.5" y1="266.6" x2="301.5" y2="273.4" stroke="#1c1c1c" stroke-width="1"/>
<rect x="301" y="268.3" width="2" height="3.4" fill="#050505"/>
<line x1="298.5" y1="262.3" x2="298.5" y2="273.4" stroke="#1c1c1c" stroke-width="1"/>
<rect x="298" y="263.1" width="2" height="6.9" fill="#050505"/>
<line x1="295.5" y1="262.3" x2="295.5" y2="280.3" stroke="#1c1c1c" stroke-width="1"/>
<rect x="294.15" y="263.1" width="2.7" height="7.7" fill="#595952"/>
<rect x="295.00" y="263.6" width="1" height="6.7" fill="#a4a498"/>
<line x1="292.5" y1="264.8" x2="292.5" y2="276.0" stroke="#1c1c1c" stroke-width="1"/>
<rect x="292" y="265.7" width="2" height="6.0" fill="#050505"/>
<line x1="289.5" y1="253.7" x2="289.5" y2="268.3" stroke="#1c1c1c" stroke-width="1"/>
<rect x="289" y="255.4" width="2" height="11.2" fill="#050505"/>
<line x1="286.5" y1="245.9" x2="286.5" y2="258.0" stroke="#1c1c1c" stroke-width="1"/>
<rect x="286" y="247.7" width="2" height="9.5" fill="#050505"/>
<line x1="283.5" y1="245.9" x2="283.5" y2="256.2" stroke="#1c1c1c" stroke-width="1"/>
<rect x="282.15" y="248.5" width="2.7" height="3.4" fill="#595952"/>
<rect x="283.00" y="249.0" width="1" height="2.4" fill="#a4a498"/>
<line x1="280.5" y1="238.2" x2="280.5" y2="252.0" stroke="#1c1c1c" stroke-width="1"/>
<rect x="280" y="240.8" width="2" height="10.3" fill="#050505"/>
<line x1="277.5" y1="237.3" x2="277.5" y2="250.2" stroke="#1c1c1c" stroke-width="1"/>
<rect x="276" y="240.8" width="2" height="3.4" fill="#050505"/>
<line x1="274.5" y1="233.0" x2="274.5" y2="252.0" stroke="#1c1c1c" stroke-width="1"/>
<rect x="273" y="240.8" width="2" height="2.6" fill="#050505"/>
<line x1="271.5" y1="236.5" x2="271.5" y2="270.0" stroke="#1c1c1c" stroke-width="1"/>
<rect x="270.15" y="240.8" width="2.7" height="26.6" fill="#595952"/>
<rect x="271.00" y="241.3" width="1" height="25.6" fill="#a4a498"/>
<line x1="268.5" y1="264.8" x2="268.5" y2="292.3" stroke="#1c1c1c" stroke-width="1"/>
<rect x="267.15" y="265.2" width="2.7" height="1.7" fill="#595952"/>
<rect x="268.00" y="265.7" width="1" height="0.7" fill="#a4a498"/>
<line x1="265.5" y1="222.7" x2="265.5" y2="308.7" stroke="#1c1c1c" stroke-width="1"/>
<rect x="264.15" y="266.6" width="2.7" height="36.1" fill="#595952"/>
<rect x="265.00" y="267.1" width="1" height="35.1" fill="#a4a498"/>
<line x1="262.5" y1="272.6" x2="262.5" y2="315.5" stroke="#1c1c1c" stroke-width="1"/>
<rect x="261" y="274.3" width="2" height="29.2" fill="#050505"/>
<line x1="259.5" y1="264.0" x2="259.5" y2="295.8" stroke="#1c1c1c" stroke-width="1"/>
<rect x="258" y="264.8" width="2" height="11.2" fill="#050505"/>
<line x1="256.5" y1="251.1" x2="256.5" y2="281.2" stroke="#1c1c1c" stroke-width="1"/>
<rect x="255" y="252.0" width="2" height="12.9" fill="#050505"/>
<line x1="253.5" y1="248.5" x2="253.5" y2="276.0" stroke="#1c1c1c" stroke-width="1"/>
<rect x="252.15" y="251.1" width="2.7" height="19.8" fill="#595952"/>
<rect x="253.00" y="251.6" width="1" height="18.8" fill="#a4a498"/>
<line x1="249.5" y1="265.7" x2="249.5" y2="286.3" stroke="#1c1c1c" stroke-width="1"/>
<rect x="248.15" y="270.3" width="2.7" height="15.1" fill="#595952"/>
<rect x="249.00" y="270.8" width="1" height="14.1" fill="#a4a498"/>
<line x1="246.5" y1="267.4" x2="246.5" y2="294.9" stroke="#1c1c1c" stroke-width="1"/>
<rect x="245.15" y="271.7" width="2.7" height="15.5" fill="#595952"/>
<rect x="246.00" y="272.2" width="1" height="14.5" fill="#a4a498"/>
<line x1="243.5" y1="270.0" x2="243.5" y2="313.8" stroke="#1c1c1c" stroke-width="1"/>
<rect x="243" y="284.6" width="2" height="5.2" fill="#050505"/>
<line x1="240.5" y1="264.8" x2="240.5" y2="291.5" stroke="#1c1c1c" stroke-width="1"/>
<rect x="240" y="276.0" width="2" height="8.6" fill="#050505"/>
<line x1="237.5" y1="256.2" x2="237.5" y2="287.2" stroke="#1c1c1c" stroke-width="1"/>
<rect x="237" y="270.9" width="2" height="5.5" fill="#050505"/>
<line x1="234.5" y1="250.2" x2="234.5" y2="273.4" stroke="#1c1c1c" stroke-width="1"/>
<rect x="234" y="252.0" width="2" height="20.6" fill="#050505"/>
<line x1="231.5" y1="245.1" x2="231.5" y2="256.2" stroke="#1c1c1c" stroke-width="1"/>
<rect x="231" y="245.9" width="2" height="7.7" fill="#050505"/>
<line x1="228.5" y1="244.2" x2="228.5" y2="252.0" stroke="#1c1c1c" stroke-width="1"/>
<rect x="227.15" y="245.9" width="2.7" height="5.2" fill="#595952"/>
<rect x="228.00" y="246.4" width="1" height="4.2" fill="#a4a498"/>
<line x1="225.5" y1="238.2" x2="225.5" y2="251.1" stroke="#1c1c1c" stroke-width="1"/>
<rect x="224" y="240.8" width="2" height="9.5" fill="#050505"/>
<line x1="222.5" y1="235.6" x2="222.5" y2="258.0" stroke="#1c1c1c" stroke-width="1"/>
<rect x="221" y="240.8" width="2" height="2.6" fill="#050505"/>
<line x1="219.5" y1="230.5" x2="219.5" y2="245.9" stroke="#1c1c1c" stroke-width="1"/>
<rect x="218" y="235.6" width="2" height="8.6" fill="#050505"/>
<line x1="216.5" y1="233.4" x2="216.5" y2="246.2" stroke="#1c1c1c" stroke-width="1"/>
<rect x="215.15" y="237.7" width="2.7" height="1.7" fill="#595952"/>
<rect x="216.00" y="238.2" width="1" height="0.7" fill="#a4a498"/>
<line x1="213.5" y1="233.4" x2="213.5" y2="249.7" stroke="#1c1c1c" stroke-width="1"/>
<rect x="212.15" y="235.1" width="2.7" height="12.9" fill="#595952"/>
<rect x="213.00" y="235.6" width="1" height="11.9" fill="#a4a498"/>
<line x1="210.5" y1="241.1" x2="210.5" y2="250.5" stroke="#1c1c1c" stroke-width="1"/>
<rect x="209" y="242.0" width="2" height="6.9" fill="#050505"/>
<line x1="207.5" y1="229.1" x2="207.5" y2="246.2" stroke="#1c1c1c" stroke-width="1"/>
<rect x="206" y="237.7" width="2" height="2.6" fill="#050505"/>
<line x1="204.5" y1="233.4" x2="204.5" y2="251.4" stroke="#1c1c1c" stroke-width="1"/>
<rect x="203.15" y="235.9" width="2.7" height="9.5" fill="#595952"/>
<rect x="204.00" y="236.4" width="1" height="8.5" fill="#a4a498"/>
<line x1="201.5" y1="232.5" x2="201.5" y2="251.4" stroke="#1c1c1c" stroke-width="1"/>
<rect x="200.15" y="245.4" width="2.7" height="1.7" fill="#595952"/>
<rect x="201.00" y="245.9" width="1" height="0.7" fill="#a4a498"/>
<line x1="197.5" y1="242.0" x2="197.5" y2="266.9" stroke="#1c1c1c" stroke-width="1"/>
<rect x="196.15" y="246.2" width="2.7" height="14.6" fill="#595952"/>
<rect x="197.00" y="246.8" width="1" height="13.6" fill="#a4a498"/>
<line x1="194.5" y1="241.1" x2="194.5" y2="270.3" stroke="#1c1c1c" stroke-width="1"/>
<rect x="193.15" y="260.0" width="2.7" height="8.6" fill="#595952"/>
<rect x="194.00" y="260.5" width="1" height="7.6" fill="#a4a498"/>
<line x1="191.5" y1="222.2" x2="191.5" y2="270.3" stroke="#1c1c1c" stroke-width="1"/>
<rect x="191" y="223.9" width="2" height="44.7" fill="#050505"/>
<line x1="188.5" y1="213.6" x2="188.5" y2="240.2" stroke="#1c1c1c" stroke-width="1"/>
<rect x="188" y="214.5" width="2" height="11.2" fill="#050505"/>
<line x1="185.5" y1="203.3" x2="185.5" y2="225.6" stroke="#1c1c1c" stroke-width="1"/>
<rect x="185" y="204.1" width="2" height="11.2" fill="#050505"/>
<line x1="182.5" y1="195.5" x2="182.5" y2="227.3" stroke="#1c1c1c" stroke-width="1"/>
<rect x="182" y="204.1" width="2" height="2.6" fill="#050505"/>
<line x1="179.5" y1="182.7" x2="179.5" y2="209.3" stroke="#1c1c1c" stroke-width="1"/>
<rect x="179" y="183.5" width="2" height="22.3" fill="#050505"/>
<line x1="176.5" y1="178.4" x2="176.5" y2="192.1" stroke="#1c1c1c" stroke-width="1"/>
<rect x="175.15" y="182.7" width="2.7" height="6.0" fill="#595952"/>
<rect x="176.00" y="183.2" width="1" height="5.0" fill="#a4a498"/>
<line x1="173.5" y1="163.8" x2="173.5" y2="199.0" stroke="#1c1c1c" stroke-width="1"/>
<rect x="173" y="166.8" width="2" height="15.8" fill="#050505"/>
<line x1="170.5" y1="129.8" x2="170.5" y2="173.7" stroke="#1c1c1c" stroke-width="1"/>
<rect x="169" y="135.0" width="2" height="30.9" fill="#050505"/>
<line x1="167.5" y1="127.8" x2="167.5" y2="149.6" stroke="#1c1c1c" stroke-width="1"/>
<rect x="166.15" y="130.7" width="2.7" height="3.4" fill="#595952"/>
<rect x="167.00" y="131.2" width="1" height="2.4" fill="#a4a498"/>
<line x1="164.5" y1="129.8" x2="164.5" y2="158.2" stroke="#1c1c1c" stroke-width="1"/>
<rect x="163.15" y="130.7" width="2.7" height="26.6" fill="#595952"/>
<rect x="164.00" y="131.2" width="1" height="25.6" fill="#a4a498"/>
<line x1="161.5" y1="154.8" x2="161.5" y2="168.5" stroke="#1c1c1c" stroke-width="1"/>
<rect x="160.15" y="156.5" width="2.7" height="10.3" fill="#595952"/>
<rect x="161.00" y="157.0" width="1" height="9.3" fill="#a4a498"/>
<line x1="158.5" y1="159.1" x2="158.5" y2="169.4" stroke="#1c1c1c" stroke-width="1"/>
<rect x="157" y="165.9" width="2" height="2.6" fill="#050505"/>
<line x1="155.5" y1="163.4" x2="155.5" y2="174.2" stroke="#1c1c1c" stroke-width="1"/>
<rect x="154.15" y="167.7" width="2.7" height="5.2" fill="#595952"/>
<rect x="155.00" y="168.2" width="1" height="4.2" fill="#a4a498"/>
<line x1="152.5" y1="162.5" x2="152.5" y2="172.0" stroke="#1c1c1c" stroke-width="1"/>
<rect x="151" y="165.1" width="2" height="6.0" fill="#050505"/>
<line x1="149.5" y1="157.3" x2="149.5" y2="171.1" stroke="#1c1c1c" stroke-width="1"/>
<rect x="148" y="159.1" width="2" height="10.3" fill="#050505"/>
<line x1="146.5" y1="151.3" x2="146.5" y2="161.6" stroke="#1c1c1c" stroke-width="1"/>
<rect x="145" y="153.9" width="2" height="6.9" fill="#050505"/>
<line x1="142.5" y1="146.2" x2="142.5" y2="157.3" stroke="#1c1c1c" stroke-width="1"/>
<rect x="142" y="147.0" width="2" height="9.5" fill="#050505"/>
<line x1="139.5" y1="141.0" x2="139.5" y2="147.9" stroke="#1c1c1c" stroke-width="1"/>
<rect x="139" y="141.9" width="2" height="5.2" fill="#050505"/>
<line x1="136.5" y1="141.0" x2="136.5" y2="145.3" stroke="#1c1c1c" stroke-width="1"/>
<rect x="136" y="141.9" width="2" height="2.6" fill="#050505"/>
<line x1="133.5" y1="143.6" x2="133.5" y2="152.2" stroke="#1c1c1c" stroke-width="1"/>
<rect x="132.15" y="144.5" width="2.7" height="6.9" fill="#595952"/>
<rect x="133.00" y="145.0" width="1" height="5.9" fill="#a4a498"/>
<line x1="130.5" y1="137.6" x2="130.5" y2="153.0" stroke="#1c1c1c" stroke-width="1"/>
<rect x="130" y="138.4" width="2" height="13.8" fill="#050505"/>
<line x1="127.5" y1="136.7" x2="127.5" y2="158.2" stroke="#1c1c1c" stroke-width="1"/>
<rect x="126.15" y="138.4" width="2.7" height="9.5" fill="#595952"/>
<rect x="127.00" y="138.9" width="1" height="8.5" fill="#a4a498"/>
<line x1="124.5" y1="147.0" x2="124.5" y2="159.1" stroke="#1c1c1c" stroke-width="1"/>
<rect x="123.15" y="147.9" width="2.7" height="9.5" fill="#595952"/>
<rect x="124.00" y="148.4" width="1" height="8.5" fill="#a4a498"/>
<line x1="121.5" y1="132.4" x2="121.5" y2="165.9" stroke="#1c1c1c" stroke-width="1"/>
<rect x="121" y="136.7" width="2" height="21.5" fill="#050505"/>
<line x1="118.5" y1="113.5" x2="118.5" y2="144.5" stroke="#1c1c1c" stroke-width="1"/>
<rect x="118" y="129.8" width="2" height="6.0" fill="#050505"/>
<line x1="115.5" y1="123.0" x2="115.5" y2="162.5" stroke="#1c1c1c" stroke-width="1"/>
<rect x="114.15" y="129.8" width="2.7" height="10.3" fill="#595952"/>
<rect x="115.00" y="130.3" width="1" height="9.3" fill="#a4a498"/>
<line x1="112.5" y1="130.7" x2="112.5" y2="152.2" stroke="#1c1c1c" stroke-width="1"/>
<rect x="111.15" y="139.3" width="2.7" height="8.6" fill="#595952"/>
<rect x="112.00" y="139.8" width="1" height="7.6" fill="#a4a498"/>
<line x1="109.5" y1="145.3" x2="109.5" y2="185.7" stroke="#1c1c1c" stroke-width="1"/>
<rect x="108.15" y="148.8" width="2.7" height="20.6" fill="#595952"/>
<rect x="109.00" y="149.2" width="1" height="19.6" fill="#a4a498"/>
<line x1="106.5" y1="158.2" x2="106.5" y2="173.7" stroke="#1c1c1c" stroke-width="1"/>
<rect x="105" y="163.4" width="2" height="7.7" fill="#050505"/>
<line x1="103.5" y1="129.8" x2="103.5" y2="174.5" stroke="#1c1c1c" stroke-width="1"/>
<rect x="102" y="130.7" width="2" height="33.5" fill="#050505"/>
<line x1="100.5" y1="129.0" x2="100.5" y2="186.6" stroke="#1c1c1c" stroke-width="1"/>
<rect x="99.15" y="131.6" width="2.7" height="53.3" fill="#595952"/>
<rect x="100.00" y="132.1" width="1" height="52.3" fill="#a4a498"/>
<line x1="97.5" y1="178.4" x2="97.5" y2="200.7" stroke="#1c1c1c" stroke-width="1"/>
<rect x="96" y="183.5" width="2" height="1.7" fill="#050505"/>
<line x1="94.5" y1="166.3" x2="94.5" y2="201.6" stroke="#1c1c1c" stroke-width="1"/>
<rect x="93.15" y="171.0" width="2.7" height="15.6" fill="#595952"/>
<rect x="94.00" y="171.5" width="1" height="14.6" fill="#a4a498"/>
<line x1="91.5" y1="162.9" x2="91.5" y2="209.3" stroke="#1c1c1c" stroke-width="1"/>
<rect x="90.15" y="173.2" width="2.7" height="33.5" fill="#595952"/>
<rect x="91.00" y="173.7" width="1" height="32.5" fill="#a4a498"/>
<line x1="87.5" y1="197.3" x2="87.5" y2="211.0" stroke="#1c1c1c" stroke-width="1"/>
<rect x="86.15" y="206.7" width="2.7" height="2.6" fill="#595952"/>
<rect x="87.00" y="207.2" width="1" height="1.6" fill="#a4a498"/>
<line x1="84.5" y1="205.9" x2="84.5" y2="222.2" stroke="#1c1c1c" stroke-width="1"/>
<rect x="83.15" y="208.4" width="2.7" height="11.2" fill="#595952"/>
<rect x="84.00" y="208.9" width="1" height="10.2" fill="#a4a498"/>
<line x1="81.5" y1="212.7" x2="81.5" y2="224.8" stroke="#1c1c1c" stroke-width="1"/>
<rect x="81" y="214.5" width="2" height="6.0" fill="#050505"/>
<line x1="78.5" y1="203.3" x2="78.5" y2="217.9" stroke="#1c1c1c" stroke-width="1"/>
<rect x="78" y="208.4" width="2" height="7.7" fill="#050505"/>
<line x1="75.5" y1="190.4" x2="75.5" y2="220.5" stroke="#1c1c1c" stroke-width="1"/>
<rect x="75" y="191.2" width="2" height="18.9" fill="#050505"/>
<line x1="72.5" y1="177.5" x2="72.5" y2="205.0" stroke="#1c1c1c" stroke-width="1"/>
<rect x="72" y="180.1" width="2" height="14.6" fill="#050505"/>
<line x1="69.5" y1="168.0" x2="69.5" y2="186.1" stroke="#1c1c1c" stroke-width="1"/>
<rect x="68.15" y="181.8" width="2.7" height="2.6" fill="#595952"/>
<rect x="69.00" y="182.3" width="1" height="1.6" fill="#a4a498"/>
<line x1="66.5" y1="175.8" x2="66.5" y2="217.0" stroke="#1c1c1c" stroke-width="1"/>
<rect x="65.15" y="184.4" width="2.7" height="29.2" fill="#595952"/>
<rect x="66.00" y="184.9" width="1" height="28.2" fill="#a4a498"/>
<line x1="63.5" y1="208.4" x2="63.5" y2="242.8" stroke="#1c1c1c" stroke-width="1"/>
<rect x="62.15" y="213.6" width="2.7" height="26.6" fill="#595952"/>
<rect x="63.00" y="214.1" width="1" height="25.6" fill="#a4a498"/>
<line x1="60.5" y1="84.3" x2="60.5" y2="97.2" stroke="#1c1c1c" stroke-width="1"/>
<rect x="59.15" y="87.7" width="2.7" height="5.7" fill="#595952"/>
<rect x="60.00" y="88.2" width="1" height="4.7" fill="#a4a498"/>
<line x1="57.5" y1="91.2" x2="57.5" y2="101.5" stroke="#1c1c1c" stroke-width="1"/>
<rect x="56.15" y="92.9" width="2.7" height="3.4" fill="#595952"/>
<rect x="57.00" y="93.4" width="1" height="2.4" fill="#a4a498"/>
<line x1="54.5" y1="92.0" x2="54.5" y2="110.1" stroke="#1c1c1c" stroke-width="1"/>
<rect x="53.15" y="95.5" width="2.7" height="7.7" fill="#595952"/>
<rect x="54.00" y="96.0" width="1" height="6.7" fill="#a4a498"/>
<line x1="51.5" y1="97.2" x2="51.5" y2="120.4" stroke="#1c1c1c" stroke-width="1"/>
<rect x="50.15" y="101.5" width="2.7" height="17.2" fill="#595952"/>
<rect x="51.00" y="102.0" width="1" height="16.2" fill="#a4a498"/>
<line x1="48.5" y1="96.3" x2="48.5" y2="124.7" stroke="#1c1c1c" stroke-width="1"/>
<rect x="47" y="98.9" width="2" height="20.6" fill="#050505"/>
<line x1="45.5" y1="91.2" x2="45.5" y2="121.2" stroke="#1c1c1c" stroke-width="1"/>
<rect x="44.15" y="100.3" width="2.7" height="15.0" fill="#595952"/>
<rect x="45.00" y="100.8" width="1" height="14.0" fill="#a4a498"/>
<line x1="42.5" y1="109.2" x2="42.5" y2="129.0" stroke="#1c1c1c" stroke-width="1"/>
<rect x="41.15" y="116.1" width="2.7" height="11.7" fill="#595952"/>
<rect x="42.00" y="116.6" width="1" height="10.7" fill="#a4a498"/>
<line x1="39.5" y1="109.2" x2="39.5" y2="142.6" stroke="#1c1c1c" stroke-width="1"/>
<rect x="38" y="124.7" width="2" height="3.4" fill="#050505"/>
<line x1="36.5" y1="117.8" x2="36.5" y2="149.6" stroke="#1c1c1c" stroke-width="1"/>
<rect x="35.15" y="123.8" width="2.7" height="15.5" fill="#595952"/>
<rect x="36.00" y="124.3" width="1" height="14.5" fill="#a4a498"/>
<line x1="32.5" y1="123.0" x2="32.5" y2="179.7" stroke="#1c1c1c" stroke-width="1"/>
<rect x="31.15" y="140.2" width="2.7" height="38.7" fill="#595952"/>
<rect x="32.00" y="140.7" width="1" height="37.7" fill="#a4a498"/>
<line x1="29.5" y1="176.6" x2="29.5" y2="197.3" stroke="#1c1c1c" stroke-width="1"/>
<rect x="28.15" y="178.4" width="2.7" height="5.2" fill="#595952"/>
<rect x="29.00" y="178.9" width="1" height="4.2" fill="#a4a498"/>
<line x1="26.5" y1="180.9" x2="26.5" y2="199.0" stroke="#1c1c1c" stroke-width="1"/>
<rect x="26" y="181.8" width="2" height="2.6" fill="#050505"/>
<line x1="23.5" y1="175.8" x2="23.5" y2="195.5" stroke="#1c1c1c" stroke-width="1"/>
<rect x="22.15" y="182.7" width="2.7" height="4.3" fill="#595952"/>
<rect x="23.00" y="183.2" width="1" height="3.3" fill="#a4a498"/>
<line x1="20.5" y1="147.0" x2="20.5" y2="195.5" stroke="#1c1c1c" stroke-width="1"/>
<rect x="20" y="150.5" width="2" height="35.6" fill="#050505"/>
<line x1="17.5" y1="139.3" x2="17.5" y2="164.2" stroke="#1c1c1c" stroke-width="1"/>
<rect x="16.15" y="152.2" width="2.7" height="9.5" fill="#595952"/>
<rect x="17.00" y="152.7" width="1" height="8.5" fill="#a4a498"/>
<line x1="14.5" y1="136.7" x2="14.5" y2="162.5" stroke="#1c1c1c" stroke-width="1"/>
<rect x="14" y="137.6" width="2" height="23.2" fill="#050505"/>
<line x1="11.5" y1="135.0" x2="11.5" y2="147.9" stroke="#1c1c1c" stroke-width="1"/>
<rect x="10.15" y="136.4" width="2.7" height="3.8" fill="#595952"/>
<rect x="11.00" y="136.9" width="1" height="2.8" fill="#a4a498"/>
<line x1="8.5" y1="132.4" x2="8.5" y2="146.2" stroke="#1c1c1c" stroke-width="1"/>
<rect x="7.15" y="135.0" width="2.7" height="10.0" fill="#595952"/>
<rect x="8.00" y="135.5" width="1" height="9.0" fill="#a4a498"/>
<line x1="5.5" y1="142.7" x2="5.5" y2="157.3" stroke="#1c1c1c" stroke-width="1"/>
<rect x="4.15" y="144.5" width="2.7" height="5.2" fill="#595952"/>
<rect x="5.00" y="145.0" width="1" height="4.2" fill="#a4a498"/>
<line x1="2.5" y1="146.2" x2="2.5" y2="164.2" stroke="#1c1c1c" stroke-width="1"/>
<rect x="1.15" y="147.9" width="2.7" height="12.0" fill="#595952"/>
<rect x="2.00" y="148.4" width="1" height="11.0" fill="#a4a498"/>
</g>
<rect x="595.00" y="322.00" width="523.00" height="33.00" fill="none" stroke="#7f0019" stroke-width="4.00"/>
<rect x="391.50" y="448.80" width="732.30" height="30.20" fill="none" stroke="#7f0019" stroke-width="4.00"/>
<line x1="813" y1="387.3" x2="1042" y2="389.2" stroke="#7f0019" stroke-width="2.4"/>
<circle cx="968.3" cy="400.9" r="0.9" fill="#111"/>
<line x1="736" y1="442.5" x2="1070" y2="442.5" stroke="#7f0019" stroke-width="2.4"/>
<polyline fill="none" stroke="#7f0019" stroke-width="2.5" stroke-linejoin="round" stroke-linecap="round" points="968.4,393.6 972.0,384.0 976.0,375.0 979.5,368.4 982.0,372.0 985.0,380.0 989.8,391.0 992.0,386.0 995.2,375.0 1000.0,364.0 1004.7,353.7 1010.0,341.0 1016.7,326.2 1018.4,320.2 1023.0,309.0 1028.8,294.4 1032.0,286.0 1034.8,278.0 1035.2,284.0 1038.0,293.0 1041.0,305.0 1044.2,315.9 1047.7,314.1 1051.0,307.0 1055.4,298.2 1063.1,298.2 1066.0,306.0 1069.0,315.0 1072.6,323.6 1073.5,312.0 1074.8,305.5 1078.0,293.0 1082.0,278.0 1082.4,285.8 1086.0,294.0 1089.8,301.8 1093.2,301.0 1096.7,294.6 1100.4,284.6 1104.2,275.8 1108.0,268.3 1110.5,258.3 1113.5,245.7 1116.7,233.2 1120.5,218.2 1123.0,205.6 1126.0,195.6 1128.5,185.6 1131.3,168.0 1136.2,143.8 1139.6,128.0 1144.4,111.6 1139.9,110.5 1145.0,99.5 1150.5,87.6"/>
<polyline fill="none" stroke="#7f0019" stroke-width="2.2" stroke-linejoin="round" stroke-linecap="round" points="1150.7,87.6 1151.3,103.3 1149.4,105.4 1147.8,103.4"/>
<polygon fill="#7f0019" points="1150.6,87.3 1144.8,99.5 1151.1,99.5"/>
<polyline fill="none" stroke="#7f0019" stroke-width="2.5" stroke-linejoin="round" stroke-linecap="round" points="976.1,420.0 978.7,427.7 982.0,435.0 985.0,441.4 987.0,444.6 992.4,454.3 997.3,467.0 1002.0,477.0 1005.9,485.0 1009.3,485.3 1014.0,478.0 1020.0,468.0 1025.6,460.0 1028.2,460.6 1033.0,474.0 1038.0,487.0 1042.8,498.8 1048.0,512.0 1053.1,525.4 1059.6,540.0"/>
<polyline fill="none" stroke="#7f0019" stroke-width="2.8" stroke-linejoin="round" stroke-linecap="round" points="1044.8,517.6 1052,528 1059.6,540"/>
<polyline fill="none" stroke="#7f0019" stroke-width="2.8" stroke-linejoin="round" stroke-linecap="round" points="1056.1,515 1057.5,528 1059.6,540"/>
<polygon fill="#7f0019" points="1050.5,519 1055.5,519 1059.6,540"/>
</g>
<line x1="0" y1="1.85" x2="1250.1" y2="1.85" stroke="#727264" stroke-width="1.6"/>
<line x1="2.15" y1="1" x2="2.15" y2="654" stroke="#6a6a5e" stroke-width="1.6"/>
<line x1="1249.2" y1="1.1" x2="1249.2" y2="654.2" stroke="#666658" stroke-width="1.7"/>
<line x1="1.4" y1="653.5" x2="1250" y2="653.5" stroke="#606054" stroke-width="1.5"/>
<line x1="1250" y1="8.0" x2="1251.7" y2="8.0" stroke="#333" stroke-width="1"/>
<text class="s" x="1253.8" y="10.6" font-size="8.0" fill="#111" textLength="20.8" lengthAdjust="spacingAndGlyphs">1.1345</text>
<line x1="1250" y1="34.7" x2="1251.7" y2="34.7" stroke="#333" stroke-width="1"/>
<text class="s" x="1253.8" y="37.3" font-size="8.0" fill="#111" textLength="20.8" lengthAdjust="spacingAndGlyphs">1.1320</text>
<line x1="1250" y1="61.4" x2="1251.7" y2="61.4" stroke="#333" stroke-width="1"/>
<text class="s" x="1253.8" y="64.0" font-size="8.0" fill="#111" textLength="20.8" lengthAdjust="spacingAndGlyphs">1.1295</text>
<line x1="1250" y1="88.2" x2="1251.7" y2="88.2" stroke="#333" stroke-width="1"/>
<text class="s" x="1253.8" y="90.7" font-size="8.0" fill="#111" textLength="20.8" lengthAdjust="spacingAndGlyphs">1.1270</text>
<line x1="1250" y1="114.9" x2="1251.7" y2="114.9" stroke="#333" stroke-width="1"/>
<text class="s" x="1253.8" y="117.4" font-size="8.0" fill="#111" textLength="20.8" lengthAdjust="spacingAndGlyphs">1.1245</text>
<line x1="1250" y1="141.6" x2="1251.7" y2="141.6" stroke="#333" stroke-width="1"/>
<text class="s" x="1253.8" y="144.2" font-size="8.0" fill="#111" textLength="20.8" lengthAdjust="spacingAndGlyphs">1.1220</text>
<line x1="1250" y1="168.3" x2="1251.7" y2="168.3" stroke="#333" stroke-width="1"/>
<text class="s" x="1253.8" y="170.9" font-size="8.0" fill="#111" textLength="20.8" lengthAdjust="spacingAndGlyphs">1.1195</text>
<line x1="1250" y1="195.0" x2="1251.7" y2="195.0" stroke="#333" stroke-width="1"/>
<text class="s" x="1253.8" y="197.6" font-size="8.0" fill="#111" textLength="20.8" lengthAdjust="spacingAndGlyphs">1.1170</text>
<line x1="1250" y1="221.8" x2="1251.7" y2="221.8" stroke="#333" stroke-width="1"/>
<text class="s" x="1253.8" y="224.3" font-size="8.0" fill="#111" textLength="20.8" lengthAdjust="spacingAndGlyphs">1.1145</text>
<line x1="1250" y1="248.5" x2="1251.7" y2="248.5" stroke="#333" stroke-width="1"/>
<text class="s" x="1253.8" y="251.0" font-size="8.0" fill="#111" textLength="20.8" lengthAdjust="spacingAndGlyphs">1.1120</text>
<line x1="1250" y1="275.2" x2="1251.7" y2="275.2" stroke="#333" stroke-width="1"/>
<text class="s" x="1253.8" y="277.8" font-size="8.0" fill="#111" textLength="20.8" lengthAdjust="spacingAndGlyphs">1.1095</text>
<line x1="1250" y1="301.9" x2="1251.7" y2="301.9" stroke="#333" stroke-width="1"/>
<text class="s" x="1253.8" y="304.5" font-size="8.0" fill="#111" textLength="20.8" lengthAdjust="spacingAndGlyphs">1.1070</text>
<line x1="1250" y1="328.6" x2="1251.7" y2="328.6" stroke="#333" stroke-width="1"/>
<text class="s" x="1253.8" y="331.2" font-size="8.0" fill="#111" textLength="20.8" lengthAdjust="spacingAndGlyphs">1.1045</text>
<line x1="1250" y1="355.4" x2="1251.7" y2="355.4" stroke="#333" stroke-width="1"/>
<text class="s" x="1253.8" y="357.9" font-size="8.0" fill="#111" textLength="20.8" lengthAdjust="spacingAndGlyphs">1.1020</text>
<line x1="1250" y1="382.1" x2="1251.7" y2="382.1" stroke="#333" stroke-width="1"/>
<text class="s" x="1253.8" y="384.6" font-size="8.0" fill="#111" textLength="20.8" lengthAdjust="spacingAndGlyphs">1.0995</text>
<line x1="1250" y1="408.8" x2="1251.7" y2="408.8" stroke="#333" stroke-width="1"/>
<text class="s" x="1253.8" y="411.3" font-size="8.0" fill="#111" textLength="20.8" lengthAdjust="spacingAndGlyphs">1.0970</text>
<line x1="1250" y1="435.5" x2="1251.7" y2="435.5" stroke="#333" stroke-width="1"/>
<text class="s" x="1253.8" y="438.1" font-size="8.0" fill="#111" textLength="20.8" lengthAdjust="spacingAndGlyphs">1.0945</text>
<line x1="1250" y1="462.2" x2="1251.7" y2="462.2" stroke="#333" stroke-width="1"/>
<text class="s" x="1253.8" y="464.8" font-size="8.0" fill="#111" textLength="20.8" lengthAdjust="spacingAndGlyphs">1.0920</text>
<line x1="1250" y1="489.0" x2="1251.7" y2="489.0" stroke="#333" stroke-width="1"/>
<text class="s" x="1253.8" y="491.5" font-size="8.0" fill="#111" textLength="20.8" lengthAdjust="spacingAndGlyphs">1.0895</text>
<line x1="1250" y1="515.7" x2="1251.7" y2="515.7" stroke="#333" stroke-width="1"/>
<text class="s" x="1253.8" y="518.2" font-size="8.0" fill="#111" textLength="20.8" lengthAdjust="spacingAndGlyphs">1.0870</text>
<line x1="1250" y1="542.4" x2="1251.7" y2="542.4" stroke="#333" stroke-width="1"/>
<text class="s" x="1253.8" y="544.9" font-size="8.0" fill="#111" textLength="20.8" lengthAdjust="spacingAndGlyphs">1.0845</text>
<line x1="1250" y1="569.1" x2="1251.7" y2="569.1" stroke="#333" stroke-width="1"/>
<text class="s" x="1253.8" y="571.7" font-size="8.0" fill="#111" textLength="20.8" lengthAdjust="spacingAndGlyphs">1.0820</text>
<line x1="1250" y1="595.8" x2="1251.7" y2="595.8" stroke="#333" stroke-width="1"/>
<text class="s" x="1253.8" y="598.4" font-size="8.0" fill="#111" textLength="20.8" lengthAdjust="spacingAndGlyphs">1.0795</text>
<line x1="1250" y1="622.6" x2="1251.7" y2="622.6" stroke="#333" stroke-width="1"/>
<text class="s" x="1253.8" y="625.1" font-size="8.0" fill="#111" textLength="20.8" lengthAdjust="spacingAndGlyphs">1.0770</text>
<line x1="1250" y1="649.3" x2="1251.7" y2="649.3" stroke="#333" stroke-width="1"/>
<text class="s" x="1253.8" y="651.8" font-size="8.0" fill="#111" textLength="20.8" lengthAdjust="spacingAndGlyphs">1.0745</text>
<rect x="1250.2" y="394.9" width="27.7" height="4" fill="#ff4500"/>
<text x="1254" y="401.5" font-size="8.0" fill="#ffd0b0" textLength="20.8" lengthAdjust="spacingAndGlyphs">1.0978</text>
<rect x="1250.2" y="398.2" width="27.7" height="7.6" fill="#000"/>
<text x="1253.8" y="404.7" font-size="8.0" fill="#fff" stroke="#fff" stroke-width="0.25" textLength="20.8" lengthAdjust="spacingAndGlyphs">1.0976</text>
<line x1="2.5" y1="653.5" x2="2.5" y2="656.8" stroke="#333" stroke-width="1"/>
<text class="s" x="2.2" y="664.2" font-size="8.0" fill="#111" textLength="39.0" lengthAdjust="spacingAndGlyphs">25 Feb 2022</text>
<line x1="51.4" y1="653.5" x2="51.4" y2="656.8" stroke="#333" stroke-width="1"/>
<text class="s" x="51.1" y="664.2" font-size="8.0" fill="#111" textLength="41.0" lengthAdjust="spacingAndGlyphs">25 Feb 20:00</text>
<line x1="100.3" y1="653.5" x2="100.3" y2="656.8" stroke="#333" stroke-width="1"/>
<text class="s" x="100.0" y="664.2" font-size="8.0" fill="#111" textLength="41.0" lengthAdjust="spacingAndGlyphs">28 Feb 12:00</text>
<line x1="149.2" y1="653.5" x2="149.2" y2="656.8" stroke="#333" stroke-width="1"/>
<text class="s" x="148.9" y="664.2" font-size="8.0" fill="#111" textLength="37.1" lengthAdjust="spacingAndGlyphs">1 Mar 04:00</text>
<line x1="198.1" y1="653.5" x2="198.1" y2="656.8" stroke="#333" stroke-width="1"/>
<text class="s" x="197.8" y="664.2" font-size="8.0" fill="#111" textLength="37.1" lengthAdjust="spacingAndGlyphs">1 Mar 20:00</text>
<line x1="247.0" y1="653.5" x2="247.0" y2="656.8" stroke="#333" stroke-width="1"/>
<text class="s" x="246.7" y="664.2" font-size="8.0" fill="#111" textLength="37.1" lengthAdjust="spacingAndGlyphs">2 Mar 12:00</text>
<line x1="295.9" y1="653.5" x2="295.9" y2="656.8" stroke="#333" stroke-width="1"/>
<text class="s" x="295.6" y="664.2" font-size="8.0" fill="#111" textLength="37.1" lengthAdjust="spacingAndGlyphs">3 Mar 04:00</text>
<line x1="344.8" y1="653.5" x2="344.8" y2="656.8" stroke="#333" stroke-width="1"/>
<text class="s" x="344.5" y="664.2" font-size="8.0" fill="#111" textLength="37.1" lengthAdjust="spacingAndGlyphs">3 Mar 20:00</text>
<line x1="393.7" y1="653.5" x2="393.7" y2="656.8" stroke="#333" stroke-width="1"/>
<text class="s" x="393.4" y="664.2" font-size="8.0" fill="#111" textLength="37.1" lengthAdjust="spacingAndGlyphs">4 Mar 12:00</text>
<line x1="442.6" y1="653.5" x2="442.6" y2="656.8" stroke="#333" stroke-width="1"/>
<text class="s" x="442.3" y="664.2" font-size="8.0" fill="#111" textLength="37.1" lengthAdjust="spacingAndGlyphs">7 Mar 04:00</text>
<line x1="491.5" y1="653.5" x2="491.5" y2="656.8" stroke="#333" stroke-width="1"/>
<text class="s" x="491.2" y="664.2" font-size="8.0" fill="#111" textLength="37.1" lengthAdjust="spacingAndGlyphs">7 Mar 20:00</text>
<line x1="540.4" y1="653.5" x2="540.4" y2="656.8" stroke="#333" stroke-width="1"/>
<text class="s" x="540.1" y="664.2" font-size="8.0" fill="#111" textLength="37.1" lengthAdjust="spacingAndGlyphs">8 Mar 12:00</text>
<line x1="589.3" y1="653.5" x2="589.3" y2="656.8" stroke="#333" stroke-width="1"/>
<text class="s" x="589.0" y="664.2" font-size="8.0" fill="#111" textLength="37.1" lengthAdjust="spacingAndGlyphs">9 Mar 04:00</text>
<line x1="638.2" y1="653.5" x2="638.2" y2="656.8" stroke="#333" stroke-width="1"/>
<text class="s" x="637.9" y="664.2" font-size="8.0" fill="#111" textLength="37.1" lengthAdjust="spacingAndGlyphs">9 Mar 20:00</text>
<line x1="687.1" y1="653.5" x2="687.1" y2="656.8" stroke="#333" stroke-width="1"/>
<text class="s" x="686.8" y="664.2" font-size="8.0" fill="#111" textLength="40.9" lengthAdjust="spacingAndGlyphs">10 Mar 12:00</text>
<line x1="736.0" y1="653.5" x2="736.0" y2="656.8" stroke="#333" stroke-width="1"/>
<text class="s" x="735.7" y="664.2" font-size="8.0" fill="#111" textLength="40.4" lengthAdjust="spacingAndGlyphs">11 Mar 04:00</text>
<line x1="784.9" y1="653.5" x2="784.9" y2="656.8" stroke="#333" stroke-width="1"/>
<text class="s" x="784.6" y="664.2" font-size="8.0" fill="#111" textLength="40.4" lengthAdjust="spacingAndGlyphs">11 Mar 20:00</text>
<line x1="833.8" y1="653.5" x2="833.8" y2="656.8" stroke="#333" stroke-width="1"/>
<text class="s" x="833.5" y="664.2" font-size="8.0" fill="#111" textLength="40.9" lengthAdjust="spacingAndGlyphs">14 Mar 12:00</text>
<line x1="882.7" y1="653.5" x2="882.7" y2="656.8" stroke="#333" stroke-width="1"/>
<text class="s" x="882.4" y="664.2" font-size="8.0" fill="#111" textLength="40.9" lengthAdjust="spacingAndGlyphs">15 Mar 04:00</text>
<line x1="931.6" y1="653.5" x2="931.6" y2="656.8" stroke="#333" stroke-width="1"/>
<text class="s" x="931.3" y="664.2" font-size="8.0" fill="#111" textLength="40.9" lengthAdjust="spacingAndGlyphs">15 Mar 20:00</text>
<path d="M4.9,7.2 L9.8,7.2 L7.35,10.1 Z" fill="#111"/>
<text class="s" x="14" y="11" font-size="8.0" fill="#111" textLength="41" lengthAdjust="spacingAndGlyphs">EURUSD,H1</text>
<text class="s" x="59.7" y="11" font-size="8.0" fill="#111" textLength="92.3" lengthAdjust="spacingAndGlyphs">1.0977 1.0977 1.0975 1.0976</text>
<text x="1012.4" y="423.6" font-size="13" font-weight="bold" fill="#0a0a14" textLength="191.3" lengthAdjust="spacingAndGlyphs">accumulation of trading volume</text>
<rect x="1119" y="18" width="118" height="22.6" fill="#dcdcdc"/>
<path d="M1119.5,40.6 L1119.5,18.5 L1237,18.5" fill="none" stroke="#b8b8b8" stroke-width="1"/>
<path d="M1119,40.4 L1236.8,40.4 L1236.8,18.5" fill="none" stroke="#e8e8e6" stroke-width="0.8"/>
<rect x="1123" y="21.6" width="14.6" height="14.8" fill="#dedede" stroke="#2e9a2e" stroke-width="1.1"/>
<rect x="1142.2" y="21.6" width="14.4" height="14.8" fill="#dedede" stroke="#ff3a3a" stroke-width="1.1"/>
<rect x="1161.6" y="22" width="13.9" height="13.9" fill="#008000"/>
<rect x="1180.6" y="22" width="13.9" height="13.9" fill="#ff0000"/>
<rect x="1199.9" y="22" width="13.3" height="13.9" fill="#d3d3d3"/>
<rect x="1218.8" y="22.2" width="14.1" height="3.1" fill="#1e90ff"/>
<rect x="1218.8" y="33.6" width="14.1" height="3.2" fill="#a81c22"/>
</svg></body></html>
